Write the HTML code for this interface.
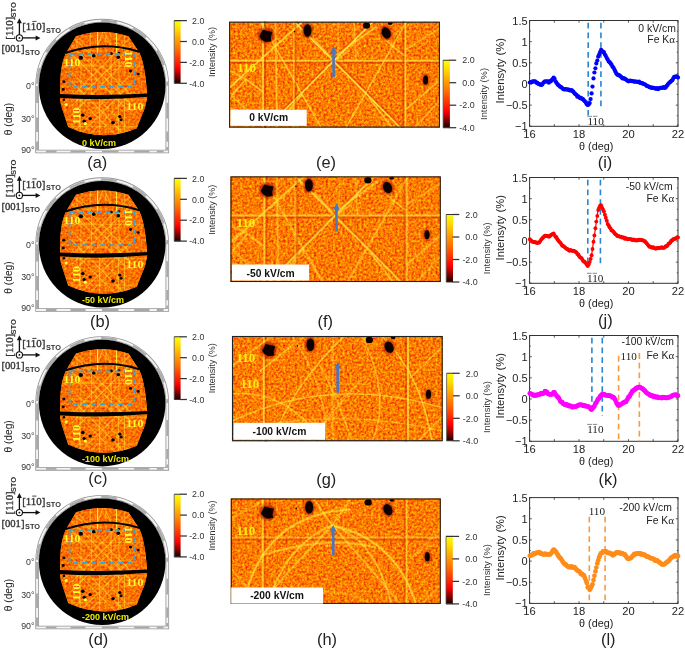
<!DOCTYPE html>
<html><head><meta charset="utf-8"><style>html,body{margin:0;padding:0;background:#fff;overflow:hidden}svg{display:block;will-change:transform}</style></head>
<body>
<svg width="685" height="649" viewBox="0 0 685 649">

<defs>
<linearGradient id="hot" x1="0" y1="0" x2="0" y2="1">
 <stop offset="0" stop-color="#ffff00"/>
 <stop offset="0.12" stop-color="#ffe000"/>
 <stop offset="0.29" stop-color="#ffa500"/>
 <stop offset="0.46" stop-color="#ff7000"/>
 <stop offset="0.63" stop-color="#ff3000"/>
 <stop offset="0.76" stop-color="#ff0000"/>
 <stop offset="0.86" stop-color="#a00000"/>
 <stop offset="1" stop-color="#180000"/>
</linearGradient>
<filter id="speck" x="0" y="0" width="100%" height="100%" color-interpolation-filters="sRGB">
 <feTurbulence type="fractalNoise" baseFrequency="0.42" numOctaves="2" seed="4" result="n"/>
 <feColorMatrix in="n" type="matrix" values="0.3 0 0 0 0.85  1.0 0 0 0 -0.02  0 0 0 0 0  0 0 0 0 1"/>
</filter>
<filter id="speck2" x="0" y="0" width="100%" height="100%" color-interpolation-filters="sRGB">
 <feTurbulence type="fractalNoise" baseFrequency="0.42" numOctaves="2" seed="11" result="n"/>
 <feColorMatrix in="n" type="matrix" values="0.2 0 0 0 0.88  0.75 0 0 0 0.06  0 0 0 0 0  0 0 0 0 1"/>
</filter>
<filter id="soft" x="-10%" y="-10%" width="120%" height="120%"><feGaussianBlur stdDeviation="0.55"/></filter>
<filter id="blobf" x="-50%" y="-50%" width="200%" height="200%"><feGaussianBlur stdDeviation="0.9"/></filter>
</defs>

<rect width="685" height="649" fill="#fff"/>
<g transform="translate(0,0)"><path d="M37.10,151.45 V85.7 A65.1,65.1 0 0 1 167.30,85.7 V151.45 Z" fill="none" stroke="#959595" stroke-width="3.6"/>
<path d="M37.10,151.45 V85.7 A65.1,65.1 0 0 1 167.30,85.7 V151.45 Z" fill="none" stroke="#f4f4f4" stroke-width="2.0"/>
<path d="M37.10,85.7 A65.1,65.1 0 0 1 167.30,85.7" fill="none" stroke="#ababab" stroke-width="2.0" stroke-dasharray="16 17" stroke-dashoffset="-2"/>
<path d="M37.10,86 V103 M37.10,117.5 V132 M37.10,141.5 V150.5 M167.30,102.7 V118.5 M167.30,131.5 V141.7 M167.30,147 V150.5 M46,151.45 H56.5 M70.5,151.45 H85.5 M102,151.45 H118.4 M134.2,151.45 H149.5 M156.8,151.45 H163.6 " fill="none" stroke="#a8a8a8" stroke-width="2.0"/>
<circle cx="102.2" cy="85.7" r="63.3" fill="#000"/>
<clipPath id="cp0"><path d="M76,36.2 Q102.2,27.6 128.4,36.2 L138.8,51.8 C142.5,58 145.5,72 146.8,90 L147.3,96.5 C146,104 144.5,110 142.9,112.5 L136.8,128.3 Q102.5,143 68.2,127 L61,105 C60.3,101 60.1,98 60.1,96 C60.1,85 60.3,76 61.2,70 C62.5,62 64,57 66.2,52.8 Z"/></clipPath>
<g clip-path="url(#cp0)">
<rect x="55" y="25" width="98" height="120" fill="#f57a10"/>
<rect x="55" y="25" width="98" height="120" filter="url(#speck2)"/>
<g filter="url(#soft)">
<line x1="77" y1="28" x2="77" y2="53" stroke="#ffe83a" stroke-width="1.1" opacity="0.35"/>
<line x1="90.2" y1="28" x2="90.2" y2="53" stroke="#ffe83a" stroke-width="1.1" opacity="0.50"/>
<line x1="97.6" y1="28" x2="97.6" y2="53" stroke="#ffe83a" stroke-width="1.1" opacity="1.00"/>
<line x1="106" y1="28" x2="106" y2="53" stroke="#ffe83a" stroke-width="1.1" opacity="0.35"/>
<line x1="116.5" y1="28" x2="116.5" y2="53" stroke="#ffe83a" stroke-width="1.1" opacity="1.00"/>
<line x1="124.4" y1="28" x2="124.4" y2="53" stroke="#ffe83a" stroke-width="1.1" opacity="0.35"/>
<line x1="97.6" y1="28" x2="97.6" y2="53" stroke="#ffe83a" stroke-width="1.1" opacity="0.60"/>
<line x1="116.5" y1="28" x2="116.5" y2="53" stroke="#ffe83a" stroke-width="1.1" opacity="0.60"/>
<line x1="103.5" y1="30" x2="97" y2="48" stroke="#ffe83a" stroke-width="1.1" opacity="0.50"/>
<line x1="103.5" y1="30" x2="112" y2="48" stroke="#ffe83a" stroke-width="1.1" opacity="0.50"/>
<line x1="79" y1="38" x2="88" y2="48" stroke="#ffe83a" stroke-width="1.1" opacity="0.40"/>
<line x1="72" y1="36.099999999999994" x2="132" y2="96.1" stroke="#ffe83a" stroke-width="1.1" opacity="0.45"/>
<line x1="132" y1="36.099999999999994" x2="72" y2="96.1" stroke="#ffe83a" stroke-width="1.1" opacity="0.45"/>
<line x1="72" y1="45.3" x2="132" y2="105.3" stroke="#ffe83a" stroke-width="1.1" opacity="0.55"/>
<line x1="132" y1="45.3" x2="72" y2="105.3" stroke="#ffe83a" stroke-width="1.1" opacity="0.55"/>
<line x1="72" y1="54.5" x2="132" y2="114.5" stroke="#ffe83a" stroke-width="1.1" opacity="0.45"/>
<line x1="132" y1="54.5" x2="72" y2="114.5" stroke="#ffe83a" stroke-width="1.1" opacity="0.45"/>
<line x1="81" y1="53" x2="81" y2="95" stroke="#ffe83a" stroke-width="1.1" opacity="0.45"/>
<line x1="91.5" y1="53" x2="91.5" y2="95" stroke="#ffe83a" stroke-width="1.1" opacity="0.45"/>
<line x1="111.2" y1="53" x2="111.2" y2="95" stroke="#ffe83a" stroke-width="1.1" opacity="0.45"/>
<line x1="119" y1="53" x2="119" y2="95" stroke="#ffe83a" stroke-width="1.1" opacity="0.45"/>
<line x1="60" y1="66.1" x2="146" y2="66.1" stroke="#ffe83a" stroke-width="1.1" opacity="0.30"/>
<line x1="72.3" y1="73" x2="132.3" y2="133" stroke="#ffe83a" stroke-width="1.1" opacity="0.40"/>
<line x1="132.3" y1="73" x2="72.3" y2="133" stroke="#ffe83a" stroke-width="1.1" opacity="0.40"/>
<line x1="72.3" y1="82.5" x2="132.3" y2="142.5" stroke="#ffe83a" stroke-width="1.1" opacity="0.55"/>
<line x1="132.3" y1="82.5" x2="72.3" y2="142.5" stroke="#ffe83a" stroke-width="1.1" opacity="0.55"/>
<line x1="72.3" y1="92" x2="132.3" y2="152" stroke="#ffe83a" stroke-width="1.1" opacity="0.40"/>
<line x1="132.3" y1="92" x2="72.3" y2="152" stroke="#ffe83a" stroke-width="1.1" opacity="0.40"/>
<line x1="80.2" y1="98" x2="80.2" y2="140" stroke="#ffe83a" stroke-width="1.1" opacity="0.50"/>
<line x1="99.6" y1="98" x2="99.6" y2="140" stroke="#ffe83a" stroke-width="1.1" opacity="0.50"/>
<line x1="118.4" y1="98" x2="118.4" y2="140" stroke="#ffe83a" stroke-width="1.1" opacity="0.50"/>
<line x1="124.5" y1="98" x2="124.5" y2="140" stroke="#ffe83a" stroke-width="1.1" opacity="0.50"/>
<line x1="60" y1="99.7" x2="148" y2="99.7" stroke="#ffe83a" stroke-width="1.1" opacity="0.35"/>
<line x1="60" y1="126.6" x2="148" y2="126.6" stroke="#ffe83a" stroke-width="1.1" opacity="0.30"/>
</g>
</g>
<path d="M65.5,53 Q102.5,40.3 139.3,51.8" fill="none" stroke="#000" stroke-width="2"/>
<path d="M59,94 Q103,96 148,93.5 L148,96.7 Q103,101 59,97.8 Z" fill="#000"/>
<ellipse cx="80.8" cy="57.7" rx="2.20" ry="2.0" fill="#000"/>
<ellipse cx="93.7" cy="55.7" rx="1.87" ry="1.7" fill="#000"/>
<ellipse cx="111.3" cy="53.6" rx="1.54" ry="1.4" fill="#000"/>
<ellipse cx="118.3" cy="57.2" rx="1.87" ry="1.7" fill="#000"/>
<ellipse cx="119" cy="53" rx="1.32" ry="1.2" fill="#000"/>
<ellipse cx="130.5" cy="71" rx="1.54" ry="1.4" fill="#000"/>
<ellipse cx="138.2" cy="74" rx="1.43" ry="1.3" fill="#000"/>
<ellipse cx="63.8" cy="81.7" rx="1.54" ry="1.4" fill="#000"/>
<ellipse cx="63.2" cy="89.4" rx="1.54" ry="1.4" fill="#000"/>
<ellipse cx="82.8" cy="115.1" rx="1.87" ry="1.7" fill="#000"/>
<ellipse cx="90.2" cy="118.5" rx="1.65" ry="1.5" fill="#000"/>
<ellipse cx="84.2" cy="121.2" rx="1.76" ry="1.6" fill="#000"/>
<ellipse cx="113" cy="122.5" rx="1.87" ry="1.7" fill="#000"/>
<ellipse cx="119.8" cy="116.5" rx="1.65" ry="1.5" fill="#000"/>
<ellipse cx="121.1" cy="119.8" rx="1.54" ry="1.4" fill="#000"/>
<ellipse cx="63.8" cy="99.8" rx="1.32" ry="1.2" fill="#000"/>
<circle cx="66.1" cy="104.5" r="1.6" fill="#ffff40"/><circle cx="85.3" cy="123.7" r="1.6" fill="#ffff40"/>
<rect x="69.6" y="53.9" width="64.4" height="32.8" fill="none" stroke="#38a6dc" stroke-width="1.7" stroke-dasharray="5 4"/>
<text x="63.5" y="65.6" font-size="9.8" textLength="17" lengthAdjust="spacingAndGlyphs" font-family="Liberation Serif, serif" font-weight="bold" fill="#ffff30">110</text>
<text x="126.3" y="109.6" font-size="9.8" textLength="17" lengthAdjust="spacingAndGlyphs" font-family="Liberation Serif, serif" font-weight="bold" fill="#ffff30">110</text>
<text transform="translate(79.6,124.5) rotate(-90)" font-size="9.8" textLength="17" lengthAdjust="spacingAndGlyphs" font-family="Liberation Serif, serif" font-weight="bold" fill="#ffff30">110</text>
<text transform="translate(125.2,50.4) rotate(90)" font-size="9.8" textLength="17" lengthAdjust="spacingAndGlyphs" font-family="Liberation Serif, serif" font-weight="bold" fill="#ffff30">110</text>
<text x="34.5" y="89.3" text-anchor="end" font-size="8.8" font-family="Liberation Sans, sans-serif" fill="#333">0°</text>
<text x="34.5" y="121.6" text-anchor="end" font-size="8.8" font-family="Liberation Sans, sans-serif" fill="#333">30°</text>
<text x="34.5" y="152.6" text-anchor="end" font-size="8.8" font-family="Liberation Sans, sans-serif" fill="#333">90°</text>
<text transform="translate(12,119) rotate(-90)" text-anchor="middle" font-size="10.2" font-family="Liberation Sans, sans-serif" fill="#222">θ (deg)</text></g><text x="81.9" y="146.3" font-size="9" font-weight="bold" font-family="Liberation Sans, sans-serif" fill="#eeee00">0 kV/cm</text>
<g transform="translate(0,0)"><path d="M19.4,37.9 V21.5" stroke="#111" stroke-width="1.3"/>
<path d="M19.4,18.3 L16.9,23.2 L21.9,23.2 Z" fill="#111"/>
<path d="M19.4,37.9 H37" stroke="#111" stroke-width="1.3"/>
<path d="M40.4,37.9 L35.6,35.4 L35.6,40.4 Z" fill="#111"/>
<circle cx="19.4" cy="37.9" r="3.1" fill="#fff" stroke="#111" stroke-width="1.1"/>
<circle cx="19.4" cy="37.9" r="0.9" fill="#111"/>
<text x="22.2" y="30.4" font-size="11" textLength="23.1" lengthAdjust="spacingAndGlyphs" font-family="Liberation Serif, serif" fill="#333" stroke="#333" stroke-width="0.35">[110]</text>
<path d="M32.3,21.4 H36.5" stroke="#333" stroke-width="0.9"/>
<text x="45.9" y="32.7" font-size="7.4" font-weight="bold" textLength="15.0" lengthAdjust="spacingAndGlyphs" font-family="Liberation Sans, sans-serif" fill="#333">STO</text>
<text x="1.4" y="52.3" font-size="11.2" textLength="23.1" lengthAdjust="spacingAndGlyphs" font-family="Liberation Serif, serif" fill="#333" stroke="#333" stroke-width="0.35">[001]</text>
<text x="25.0" y="54.6" font-size="7.4" font-weight="bold" textLength="15.0" lengthAdjust="spacingAndGlyphs" font-family="Liberation Sans, sans-serif" fill="#333">STO</text>
<text transform="translate(12.8,39.7) rotate(-90)" font-size="11" textLength="23.1" lengthAdjust="spacingAndGlyphs" font-family="Liberation Serif, serif" fill="#333" stroke="#333" stroke-width="0.35">[110]</text>
<text transform="translate(16.3,17.6) rotate(-90)" font-size="7.4" font-weight="bold" textLength="15.6" lengthAdjust="spacingAndGlyphs" font-family="Liberation Sans, sans-serif" fill="#333">STO</text></g>
<rect x="174.2" y="20.6" width="6.400000000000006" height="62.699999999999996" fill="url(#hot)"/>
<path d="M174.2,20.6 V83.3" stroke="#555" stroke-width="0.8"/>
<path d="M174.2,20.6 H180.6 M174.2,83.3 H180.6" stroke="#333" stroke-width="1.1"/>
<path d="M180.1,20.60 H186.9" stroke="#333" stroke-width="1.25"/>
<text x="204.3" y="23.80" text-anchor="end" font-size="8.8" font-family="Liberation Sans, sans-serif" fill="#333">2.0</text>
<path d="M180.1,41.50 H186.9" stroke="#333" stroke-width="1.25"/>
<text x="204.3" y="44.70" text-anchor="end" font-size="8.8" font-family="Liberation Sans, sans-serif" fill="#333">0.0</text>
<path d="M180.1,62.40 H186.9" stroke="#333" stroke-width="1.25"/>
<text x="204.3" y="65.60" text-anchor="end" font-size="8.8" font-family="Liberation Sans, sans-serif" fill="#333">-2.0</text>
<path d="M180.1,83.30 H186.9" stroke="#333" stroke-width="1.25"/>
<text x="204.3" y="86.50" text-anchor="end" font-size="8.8" font-family="Liberation Sans, sans-serif" fill="#333">-4.0</text>
<text transform="translate(214.9,51.95) rotate(-90)" text-anchor="middle" font-size="9.0" font-family="Liberation Sans, sans-serif" fill="#333">Intensity (%)</text>
<g transform="translate(0,158.5)"><path d="M37.10,151.45 V85.7 A65.1,65.1 0 0 1 167.30,85.7 V151.45 Z" fill="none" stroke="#959595" stroke-width="3.6"/>
<path d="M37.10,151.45 V85.7 A65.1,65.1 0 0 1 167.30,85.7 V151.45 Z" fill="none" stroke="#f4f4f4" stroke-width="2.0"/>
<path d="M37.10,85.7 A65.1,65.1 0 0 1 167.30,85.7" fill="none" stroke="#ababab" stroke-width="2.0" stroke-dasharray="16 17" stroke-dashoffset="-2"/>
<path d="M37.10,86 V103 M37.10,117.5 V132 M37.10,141.5 V150.5 M167.30,102.7 V118.5 M167.30,131.5 V141.7 M167.30,147 V150.5 M46,151.45 H56.5 M70.5,151.45 H85.5 M102,151.45 H118.4 M134.2,151.45 H149.5 M156.8,151.45 H163.6 " fill="none" stroke="#a8a8a8" stroke-width="2.0"/>
<circle cx="102.2" cy="85.7" r="63.3" fill="#000"/>
<clipPath id="cp1"><path d="M76,36.2 Q102.2,27.6 128.4,36.2 L138.8,51.8 C142.5,58 145.5,72 146.8,90 L147.3,96.5 C146,104 144.5,110 142.9,112.5 L136.8,128.3 Q102.5,143 68.2,127 L61,105 C60.3,101 60.1,98 60.1,96 C60.1,85 60.3,76 61.2,70 C62.5,62 64,57 66.2,52.8 Z"/></clipPath>
<g clip-path="url(#cp1)">
<rect x="55" y="25" width="98" height="120" fill="#f57a10"/>
<rect x="55" y="25" width="98" height="120" filter="url(#speck2)"/>
<g filter="url(#soft)">
<line x1="77" y1="28" x2="77" y2="53" stroke="#ffe83a" stroke-width="1.1" opacity="0.35"/>
<line x1="90.2" y1="28" x2="90.2" y2="53" stroke="#ffe83a" stroke-width="1.1" opacity="0.50"/>
<line x1="97.6" y1="28" x2="97.6" y2="53" stroke="#ffe83a" stroke-width="1.1" opacity="1.00"/>
<line x1="106" y1="28" x2="106" y2="53" stroke="#ffe83a" stroke-width="1.1" opacity="0.35"/>
<line x1="116.5" y1="28" x2="116.5" y2="53" stroke="#ffe83a" stroke-width="1.1" opacity="1.00"/>
<line x1="124.4" y1="28" x2="124.4" y2="53" stroke="#ffe83a" stroke-width="1.1" opacity="0.35"/>
<line x1="97.6" y1="28" x2="97.6" y2="53" stroke="#ffe83a" stroke-width="1.1" opacity="0.60"/>
<line x1="116.5" y1="28" x2="116.5" y2="53" stroke="#ffe83a" stroke-width="1.1" opacity="0.60"/>
<line x1="103.5" y1="30" x2="97" y2="48" stroke="#ffe83a" stroke-width="1.1" opacity="0.50"/>
<line x1="103.5" y1="30" x2="112" y2="48" stroke="#ffe83a" stroke-width="1.1" opacity="0.50"/>
<line x1="79" y1="38" x2="88" y2="48" stroke="#ffe83a" stroke-width="1.1" opacity="0.40"/>
<line x1="72" y1="36.099999999999994" x2="132" y2="96.1" stroke="#ffe83a" stroke-width="1.1" opacity="0.45"/>
<line x1="132" y1="36.099999999999994" x2="72" y2="96.1" stroke="#ffe83a" stroke-width="1.1" opacity="0.45"/>
<line x1="72" y1="45.3" x2="132" y2="105.3" stroke="#ffe83a" stroke-width="1.1" opacity="0.55"/>
<line x1="132" y1="45.3" x2="72" y2="105.3" stroke="#ffe83a" stroke-width="1.1" opacity="0.55"/>
<line x1="72" y1="54.5" x2="132" y2="114.5" stroke="#ffe83a" stroke-width="1.1" opacity="0.45"/>
<line x1="132" y1="54.5" x2="72" y2="114.5" stroke="#ffe83a" stroke-width="1.1" opacity="0.45"/>
<line x1="81" y1="53" x2="81" y2="95" stroke="#ffe83a" stroke-width="1.1" opacity="0.45"/>
<line x1="91.5" y1="53" x2="91.5" y2="95" stroke="#ffe83a" stroke-width="1.1" opacity="0.45"/>
<line x1="111.2" y1="53" x2="111.2" y2="95" stroke="#ffe83a" stroke-width="1.1" opacity="0.45"/>
<line x1="119" y1="53" x2="119" y2="95" stroke="#ffe83a" stroke-width="1.1" opacity="0.45"/>
<line x1="60" y1="66.1" x2="146" y2="66.1" stroke="#ffe83a" stroke-width="1.1" opacity="0.30"/>
<line x1="72.3" y1="73" x2="132.3" y2="133" stroke="#ffe83a" stroke-width="1.1" opacity="0.40"/>
<line x1="132.3" y1="73" x2="72.3" y2="133" stroke="#ffe83a" stroke-width="1.1" opacity="0.40"/>
<line x1="72.3" y1="82.5" x2="132.3" y2="142.5" stroke="#ffe83a" stroke-width="1.1" opacity="0.55"/>
<line x1="132.3" y1="82.5" x2="72.3" y2="142.5" stroke="#ffe83a" stroke-width="1.1" opacity="0.55"/>
<line x1="72.3" y1="92" x2="132.3" y2="152" stroke="#ffe83a" stroke-width="1.1" opacity="0.40"/>
<line x1="132.3" y1="92" x2="72.3" y2="152" stroke="#ffe83a" stroke-width="1.1" opacity="0.40"/>
<line x1="80.2" y1="98" x2="80.2" y2="140" stroke="#ffe83a" stroke-width="1.1" opacity="0.50"/>
<line x1="99.6" y1="98" x2="99.6" y2="140" stroke="#ffe83a" stroke-width="1.1" opacity="0.50"/>
<line x1="118.4" y1="98" x2="118.4" y2="140" stroke="#ffe83a" stroke-width="1.1" opacity="0.50"/>
<line x1="124.5" y1="98" x2="124.5" y2="140" stroke="#ffe83a" stroke-width="1.1" opacity="0.50"/>
<line x1="60" y1="99.7" x2="148" y2="99.7" stroke="#ffe83a" stroke-width="1.1" opacity="0.35"/>
<line x1="60" y1="126.6" x2="148" y2="126.6" stroke="#ffe83a" stroke-width="1.1" opacity="0.30"/>
</g>
</g>
<path d="M65.5,53 Q102.5,40.3 139.3,51.8" fill="none" stroke="#000" stroke-width="2"/>
<path d="M59,94 Q103,96 148,93.5 L148,96.7 Q103,101 59,97.8 Z" fill="#000"/>
<ellipse cx="80.8" cy="57.7" rx="2.20" ry="2.0" fill="#000"/>
<ellipse cx="93.7" cy="55.7" rx="1.87" ry="1.7" fill="#000"/>
<ellipse cx="111.3" cy="53.6" rx="1.54" ry="1.4" fill="#000"/>
<ellipse cx="118.3" cy="57.2" rx="1.87" ry="1.7" fill="#000"/>
<ellipse cx="119" cy="53" rx="1.32" ry="1.2" fill="#000"/>
<ellipse cx="130.5" cy="71" rx="1.54" ry="1.4" fill="#000"/>
<ellipse cx="138.2" cy="74" rx="1.43" ry="1.3" fill="#000"/>
<ellipse cx="63.8" cy="81.7" rx="1.54" ry="1.4" fill="#000"/>
<ellipse cx="63.2" cy="89.4" rx="1.54" ry="1.4" fill="#000"/>
<ellipse cx="82.8" cy="115.1" rx="1.87" ry="1.7" fill="#000"/>
<ellipse cx="90.2" cy="118.5" rx="1.65" ry="1.5" fill="#000"/>
<ellipse cx="84.2" cy="121.2" rx="1.76" ry="1.6" fill="#000"/>
<ellipse cx="113" cy="122.5" rx="1.87" ry="1.7" fill="#000"/>
<ellipse cx="119.8" cy="116.5" rx="1.65" ry="1.5" fill="#000"/>
<ellipse cx="121.1" cy="119.8" rx="1.54" ry="1.4" fill="#000"/>
<ellipse cx="63.8" cy="99.8" rx="1.32" ry="1.2" fill="#000"/>
<circle cx="66.1" cy="104.5" r="1.6" fill="#ffff40"/><circle cx="85.3" cy="123.7" r="1.6" fill="#ffff40"/>
<rect x="69.6" y="53.9" width="64.4" height="32.8" fill="none" stroke="#38a6dc" stroke-width="1.7" stroke-dasharray="5 4"/>
<text x="63.5" y="65.6" font-size="9.8" textLength="17" lengthAdjust="spacingAndGlyphs" font-family="Liberation Serif, serif" font-weight="bold" fill="#ffff30">110</text>
<text x="126.3" y="109.6" font-size="9.8" textLength="17" lengthAdjust="spacingAndGlyphs" font-family="Liberation Serif, serif" font-weight="bold" fill="#ffff30">110</text>
<text transform="translate(79.6,124.5) rotate(-90)" font-size="9.8" textLength="17" lengthAdjust="spacingAndGlyphs" font-family="Liberation Serif, serif" font-weight="bold" fill="#ffff30">110</text>
<text transform="translate(125.2,50.4) rotate(90)" font-size="9.8" textLength="17" lengthAdjust="spacingAndGlyphs" font-family="Liberation Serif, serif" font-weight="bold" fill="#ffff30">110</text>
<text x="34.5" y="89.3" text-anchor="end" font-size="8.8" font-family="Liberation Sans, sans-serif" fill="#333">0°</text>
<text x="34.5" y="121.6" text-anchor="end" font-size="8.8" font-family="Liberation Sans, sans-serif" fill="#333">30°</text>
<text x="34.5" y="152.6" text-anchor="end" font-size="8.8" font-family="Liberation Sans, sans-serif" fill="#333">90°</text>
<text transform="translate(12,119) rotate(-90)" text-anchor="middle" font-size="10.2" font-family="Liberation Sans, sans-serif" fill="#222">θ (deg)</text></g><text x="81.9" y="303.3" font-size="9" font-weight="bold" font-family="Liberation Sans, sans-serif" fill="#eeee00">-50 kV/cm</text>
<g transform="translate(0,157.5)"><path d="M19.4,37.9 V21.5" stroke="#111" stroke-width="1.3"/>
<path d="M19.4,18.3 L16.9,23.2 L21.9,23.2 Z" fill="#111"/>
<path d="M19.4,37.9 H37" stroke="#111" stroke-width="1.3"/>
<path d="M40.4,37.9 L35.6,35.4 L35.6,40.4 Z" fill="#111"/>
<circle cx="19.4" cy="37.9" r="3.1" fill="#fff" stroke="#111" stroke-width="1.1"/>
<circle cx="19.4" cy="37.9" r="0.9" fill="#111"/>
<text x="22.2" y="30.4" font-size="11" textLength="23.1" lengthAdjust="spacingAndGlyphs" font-family="Liberation Serif, serif" fill="#333" stroke="#333" stroke-width="0.35">[110]</text>
<path d="M32.3,21.4 H36.5" stroke="#333" stroke-width="0.9"/>
<text x="45.9" y="32.7" font-size="7.4" font-weight="bold" textLength="15.0" lengthAdjust="spacingAndGlyphs" font-family="Liberation Sans, sans-serif" fill="#333">STO</text>
<text x="1.4" y="52.3" font-size="11.2" textLength="23.1" lengthAdjust="spacingAndGlyphs" font-family="Liberation Serif, serif" fill="#333" stroke="#333" stroke-width="0.35">[001]</text>
<text x="25.0" y="54.6" font-size="7.4" font-weight="bold" textLength="15.0" lengthAdjust="spacingAndGlyphs" font-family="Liberation Sans, sans-serif" fill="#333">STO</text>
<text transform="translate(12.8,39.7) rotate(-90)" font-size="11" textLength="23.1" lengthAdjust="spacingAndGlyphs" font-family="Liberation Serif, serif" fill="#333" stroke="#333" stroke-width="0.35">[110]</text>
<text transform="translate(16.3,17.6) rotate(-90)" font-size="7.4" font-weight="bold" textLength="15.6" lengthAdjust="spacingAndGlyphs" font-family="Liberation Sans, sans-serif" fill="#333">STO</text></g>
<rect x="174.2" y="178.4" width="6.400000000000006" height="62.70000000000002" fill="url(#hot)"/>
<path d="M174.2,178.4 V241.10000000000002" stroke="#555" stroke-width="0.8"/>
<path d="M174.2,178.4 H180.6 M174.2,241.10000000000002 H180.6" stroke="#333" stroke-width="1.1"/>
<path d="M180.1,178.40 H186.9" stroke="#333" stroke-width="1.25"/>
<text x="204.3" y="181.60" text-anchor="end" font-size="8.8" font-family="Liberation Sans, sans-serif" fill="#333">2.0</text>
<path d="M180.1,199.30 H186.9" stroke="#333" stroke-width="1.25"/>
<text x="204.3" y="202.50" text-anchor="end" font-size="8.8" font-family="Liberation Sans, sans-serif" fill="#333">0.0</text>
<path d="M180.1,220.20 H186.9" stroke="#333" stroke-width="1.25"/>
<text x="204.3" y="223.40" text-anchor="end" font-size="8.8" font-family="Liberation Sans, sans-serif" fill="#333">-2.0</text>
<path d="M180.1,241.10 H186.9" stroke="#333" stroke-width="1.25"/>
<text x="204.3" y="244.30" text-anchor="end" font-size="8.8" font-family="Liberation Sans, sans-serif" fill="#333">-4.0</text>
<text transform="translate(214.9,209.75) rotate(-90)" text-anchor="middle" font-size="9.0" font-family="Liberation Sans, sans-serif" fill="#333">Intensity (%)</text>
<g transform="translate(0,317.4)"><path d="M37.10,151.45 V85.7 A65.1,65.1 0 0 1 167.30,85.7 V151.45 Z" fill="none" stroke="#959595" stroke-width="3.6"/>
<path d="M37.10,151.45 V85.7 A65.1,65.1 0 0 1 167.30,85.7 V151.45 Z" fill="none" stroke="#f4f4f4" stroke-width="2.0"/>
<path d="M37.10,85.7 A65.1,65.1 0 0 1 167.30,85.7" fill="none" stroke="#ababab" stroke-width="2.0" stroke-dasharray="16 17" stroke-dashoffset="-2"/>
<path d="M37.10,86 V103 M37.10,117.5 V132 M37.10,141.5 V150.5 M167.30,102.7 V118.5 M167.30,131.5 V141.7 M167.30,147 V150.5 M46,151.45 H56.5 M70.5,151.45 H85.5 M102,151.45 H118.4 M134.2,151.45 H149.5 M156.8,151.45 H163.6 " fill="none" stroke="#a8a8a8" stroke-width="2.0"/>
<circle cx="102.2" cy="85.7" r="63.3" fill="#000"/>
<clipPath id="cp2"><path d="M76,36.2 Q102.2,27.6 128.4,36.2 L138.8,51.8 C142.5,58 145.5,72 146.8,90 L147.3,96.5 C146,104 144.5,110 142.9,112.5 L136.8,128.3 Q102.5,143 68.2,127 L61,105 C60.3,101 60.1,98 60.1,96 C60.1,85 60.3,76 61.2,70 C62.5,62 64,57 66.2,52.8 Z"/></clipPath>
<g clip-path="url(#cp2)">
<rect x="55" y="25" width="98" height="120" fill="#f57a10"/>
<rect x="55" y="25" width="98" height="120" filter="url(#speck2)"/>
<g filter="url(#soft)">
<line x1="77" y1="28" x2="77" y2="53" stroke="#ffe83a" stroke-width="1.1" opacity="0.35"/>
<line x1="90.2" y1="28" x2="90.2" y2="53" stroke="#ffe83a" stroke-width="1.1" opacity="0.50"/>
<line x1="97.6" y1="28" x2="97.6" y2="53" stroke="#ffe83a" stroke-width="1.1" opacity="1.00"/>
<line x1="106" y1="28" x2="106" y2="53" stroke="#ffe83a" stroke-width="1.1" opacity="0.35"/>
<line x1="116.5" y1="28" x2="116.5" y2="53" stroke="#ffe83a" stroke-width="1.1" opacity="1.00"/>
<line x1="124.4" y1="28" x2="124.4" y2="53" stroke="#ffe83a" stroke-width="1.1" opacity="0.35"/>
<line x1="97.6" y1="28" x2="97.6" y2="53" stroke="#ffe83a" stroke-width="1.1" opacity="0.60"/>
<line x1="116.5" y1="28" x2="116.5" y2="53" stroke="#ffe83a" stroke-width="1.1" opacity="0.60"/>
<line x1="103.5" y1="30" x2="97" y2="48" stroke="#ffe83a" stroke-width="1.1" opacity="0.50"/>
<line x1="103.5" y1="30" x2="112" y2="48" stroke="#ffe83a" stroke-width="1.1" opacity="0.50"/>
<line x1="79" y1="38" x2="88" y2="48" stroke="#ffe83a" stroke-width="1.1" opacity="0.40"/>
<line x1="72" y1="36.099999999999994" x2="132" y2="96.1" stroke="#ffe83a" stroke-width="1.1" opacity="0.45"/>
<line x1="132" y1="36.099999999999994" x2="72" y2="96.1" stroke="#ffe83a" stroke-width="1.1" opacity="0.45"/>
<line x1="72" y1="45.3" x2="132" y2="105.3" stroke="#ffe83a" stroke-width="1.1" opacity="0.55"/>
<line x1="132" y1="45.3" x2="72" y2="105.3" stroke="#ffe83a" stroke-width="1.1" opacity="0.55"/>
<line x1="72" y1="54.5" x2="132" y2="114.5" stroke="#ffe83a" stroke-width="1.1" opacity="0.45"/>
<line x1="132" y1="54.5" x2="72" y2="114.5" stroke="#ffe83a" stroke-width="1.1" opacity="0.45"/>
<line x1="81" y1="53" x2="81" y2="95" stroke="#ffe83a" stroke-width="1.1" opacity="0.45"/>
<line x1="91.5" y1="53" x2="91.5" y2="95" stroke="#ffe83a" stroke-width="1.1" opacity="0.45"/>
<line x1="111.2" y1="53" x2="111.2" y2="95" stroke="#ffe83a" stroke-width="1.1" opacity="0.45"/>
<line x1="119" y1="53" x2="119" y2="95" stroke="#ffe83a" stroke-width="1.1" opacity="0.45"/>
<line x1="60" y1="66.1" x2="146" y2="66.1" stroke="#ffe83a" stroke-width="1.1" opacity="0.30"/>
<line x1="72.3" y1="73" x2="132.3" y2="133" stroke="#ffe83a" stroke-width="1.1" opacity="0.40"/>
<line x1="132.3" y1="73" x2="72.3" y2="133" stroke="#ffe83a" stroke-width="1.1" opacity="0.40"/>
<line x1="72.3" y1="82.5" x2="132.3" y2="142.5" stroke="#ffe83a" stroke-width="1.1" opacity="0.55"/>
<line x1="132.3" y1="82.5" x2="72.3" y2="142.5" stroke="#ffe83a" stroke-width="1.1" opacity="0.55"/>
<line x1="72.3" y1="92" x2="132.3" y2="152" stroke="#ffe83a" stroke-width="1.1" opacity="0.40"/>
<line x1="132.3" y1="92" x2="72.3" y2="152" stroke="#ffe83a" stroke-width="1.1" opacity="0.40"/>
<line x1="80.2" y1="98" x2="80.2" y2="140" stroke="#ffe83a" stroke-width="1.1" opacity="0.50"/>
<line x1="99.6" y1="98" x2="99.6" y2="140" stroke="#ffe83a" stroke-width="1.1" opacity="0.50"/>
<line x1="118.4" y1="98" x2="118.4" y2="140" stroke="#ffe83a" stroke-width="1.1" opacity="0.50"/>
<line x1="124.5" y1="98" x2="124.5" y2="140" stroke="#ffe83a" stroke-width="1.1" opacity="0.50"/>
<line x1="60" y1="99.7" x2="148" y2="99.7" stroke="#ffe83a" stroke-width="1.1" opacity="0.35"/>
<line x1="60" y1="126.6" x2="148" y2="126.6" stroke="#ffe83a" stroke-width="1.1" opacity="0.30"/>
</g>
</g>
<path d="M65.5,53 Q102.5,40.3 139.3,51.8" fill="none" stroke="#000" stroke-width="2"/>
<path d="M59,94 Q103,96 148,93.5 L148,96.7 Q103,101 59,97.8 Z" fill="#000"/>
<ellipse cx="80.8" cy="57.7" rx="2.20" ry="2.0" fill="#000"/>
<ellipse cx="93.7" cy="55.7" rx="1.87" ry="1.7" fill="#000"/>
<ellipse cx="111.3" cy="53.6" rx="1.54" ry="1.4" fill="#000"/>
<ellipse cx="118.3" cy="57.2" rx="1.87" ry="1.7" fill="#000"/>
<ellipse cx="119" cy="53" rx="1.32" ry="1.2" fill="#000"/>
<ellipse cx="130.5" cy="71" rx="1.54" ry="1.4" fill="#000"/>
<ellipse cx="138.2" cy="74" rx="1.43" ry="1.3" fill="#000"/>
<ellipse cx="63.8" cy="81.7" rx="1.54" ry="1.4" fill="#000"/>
<ellipse cx="63.2" cy="89.4" rx="1.54" ry="1.4" fill="#000"/>
<ellipse cx="82.8" cy="115.1" rx="1.87" ry="1.7" fill="#000"/>
<ellipse cx="90.2" cy="118.5" rx="1.65" ry="1.5" fill="#000"/>
<ellipse cx="84.2" cy="121.2" rx="1.76" ry="1.6" fill="#000"/>
<ellipse cx="113" cy="122.5" rx="1.87" ry="1.7" fill="#000"/>
<ellipse cx="119.8" cy="116.5" rx="1.65" ry="1.5" fill="#000"/>
<ellipse cx="121.1" cy="119.8" rx="1.54" ry="1.4" fill="#000"/>
<ellipse cx="63.8" cy="99.8" rx="1.32" ry="1.2" fill="#000"/>
<circle cx="66.1" cy="104.5" r="1.6" fill="#ffff40"/><circle cx="85.3" cy="123.7" r="1.6" fill="#ffff40"/>
<rect x="69.6" y="53.9" width="64.4" height="32.8" fill="none" stroke="#38a6dc" stroke-width="1.7" stroke-dasharray="5 4"/>
<text x="63.5" y="65.6" font-size="9.8" textLength="17" lengthAdjust="spacingAndGlyphs" font-family="Liberation Serif, serif" font-weight="bold" fill="#ffff30">110</text>
<text x="126.3" y="109.6" font-size="9.8" textLength="17" lengthAdjust="spacingAndGlyphs" font-family="Liberation Serif, serif" font-weight="bold" fill="#ffff30">110</text>
<text transform="translate(79.6,124.5) rotate(-90)" font-size="9.8" textLength="17" lengthAdjust="spacingAndGlyphs" font-family="Liberation Serif, serif" font-weight="bold" fill="#ffff30">110</text>
<text transform="translate(125.2,50.4) rotate(90)" font-size="9.8" textLength="17" lengthAdjust="spacingAndGlyphs" font-family="Liberation Serif, serif" font-weight="bold" fill="#ffff30">110</text>
<text x="34.5" y="89.3" text-anchor="end" font-size="8.8" font-family="Liberation Sans, sans-serif" fill="#333">0°</text>
<text x="34.5" y="121.6" text-anchor="end" font-size="8.8" font-family="Liberation Sans, sans-serif" fill="#333">30°</text>
<text x="34.5" y="152.6" text-anchor="end" font-size="8.8" font-family="Liberation Sans, sans-serif" fill="#333">90°</text>
<text transform="translate(12,119) rotate(-90)" text-anchor="middle" font-size="10.2" font-family="Liberation Sans, sans-serif" fill="#222">θ (deg)</text></g><text x="81.9" y="461.8" font-size="9" font-weight="bold" font-family="Liberation Sans, sans-serif" fill="#eeee00">-100 kV/cm</text>
<g transform="translate(0,317)"><path d="M19.4,37.9 V21.5" stroke="#111" stroke-width="1.3"/>
<path d="M19.4,18.3 L16.9,23.2 L21.9,23.2 Z" fill="#111"/>
<path d="M19.4,37.9 H37" stroke="#111" stroke-width="1.3"/>
<path d="M40.4,37.9 L35.6,35.4 L35.6,40.4 Z" fill="#111"/>
<circle cx="19.4" cy="37.9" r="3.1" fill="#fff" stroke="#111" stroke-width="1.1"/>
<circle cx="19.4" cy="37.9" r="0.9" fill="#111"/>
<text x="22.2" y="30.4" font-size="11" textLength="23.1" lengthAdjust="spacingAndGlyphs" font-family="Liberation Serif, serif" fill="#333" stroke="#333" stroke-width="0.35">[110]</text>
<path d="M32.3,21.4 H36.5" stroke="#333" stroke-width="0.9"/>
<text x="45.9" y="32.7" font-size="7.4" font-weight="bold" textLength="15.0" lengthAdjust="spacingAndGlyphs" font-family="Liberation Sans, sans-serif" fill="#333">STO</text>
<text x="1.4" y="52.3" font-size="11.2" textLength="23.1" lengthAdjust="spacingAndGlyphs" font-family="Liberation Serif, serif" fill="#333" stroke="#333" stroke-width="0.35">[001]</text>
<text x="25.0" y="54.6" font-size="7.4" font-weight="bold" textLength="15.0" lengthAdjust="spacingAndGlyphs" font-family="Liberation Sans, sans-serif" fill="#333">STO</text>
<text transform="translate(12.8,39.7) rotate(-90)" font-size="11" textLength="23.1" lengthAdjust="spacingAndGlyphs" font-family="Liberation Serif, serif" fill="#333" stroke="#333" stroke-width="0.35">[110]</text>
<text transform="translate(16.3,17.6) rotate(-90)" font-size="7.4" font-weight="bold" textLength="15.6" lengthAdjust="spacingAndGlyphs" font-family="Liberation Sans, sans-serif" fill="#333">STO</text></g>
<rect x="174.2" y="336.8" width="6.400000000000006" height="62.69999999999999" fill="url(#hot)"/>
<path d="M174.2,336.8 V399.5" stroke="#555" stroke-width="0.8"/>
<path d="M174.2,336.8 H180.6 M174.2,399.5 H180.6" stroke="#333" stroke-width="1.1"/>
<path d="M180.1,336.80 H186.9" stroke="#333" stroke-width="1.25"/>
<text x="204.3" y="340.00" text-anchor="end" font-size="8.8" font-family="Liberation Sans, sans-serif" fill="#333">2.0</text>
<path d="M180.1,357.70 H186.9" stroke="#333" stroke-width="1.25"/>
<text x="204.3" y="360.90" text-anchor="end" font-size="8.8" font-family="Liberation Sans, sans-serif" fill="#333">0.0</text>
<path d="M180.1,378.60 H186.9" stroke="#333" stroke-width="1.25"/>
<text x="204.3" y="381.80" text-anchor="end" font-size="8.8" font-family="Liberation Sans, sans-serif" fill="#333">-2.0</text>
<path d="M180.1,399.50 H186.9" stroke="#333" stroke-width="1.25"/>
<text x="204.3" y="402.70" text-anchor="end" font-size="8.8" font-family="Liberation Sans, sans-serif" fill="#333">-4.0</text>
<text transform="translate(214.9,368.15) rotate(-90)" text-anchor="middle" font-size="9.0" font-family="Liberation Sans, sans-serif" fill="#333">Intensity (%)</text>
<g transform="translate(0,476.1)"><path d="M37.10,151.45 V85.7 A65.1,65.1 0 0 1 167.30,85.7 V151.45 Z" fill="none" stroke="#959595" stroke-width="3.6"/>
<path d="M37.10,151.45 V85.7 A65.1,65.1 0 0 1 167.30,85.7 V151.45 Z" fill="none" stroke="#f4f4f4" stroke-width="2.0"/>
<path d="M37.10,85.7 A65.1,65.1 0 0 1 167.30,85.7" fill="none" stroke="#ababab" stroke-width="2.0" stroke-dasharray="16 17" stroke-dashoffset="-2"/>
<path d="M37.10,86 V103 M37.10,117.5 V132 M37.10,141.5 V150.5 M167.30,102.7 V118.5 M167.30,131.5 V141.7 M167.30,147 V150.5 M46,151.45 H56.5 M70.5,151.45 H85.5 M102,151.45 H118.4 M134.2,151.45 H149.5 M156.8,151.45 H163.6 " fill="none" stroke="#a8a8a8" stroke-width="2.0"/>
<circle cx="102.2" cy="85.7" r="63.3" fill="#000"/>
<clipPath id="cp3"><path d="M76,36.2 Q102.2,27.6 128.4,36.2 L138.8,51.8 C142.5,58 145.5,72 146.8,90 L147.3,96.5 C146,104 144.5,110 142.9,112.5 L136.8,128.3 Q102.5,143 68.2,127 L61,105 C60.3,101 60.1,98 60.1,96 C60.1,85 60.3,76 61.2,70 C62.5,62 64,57 66.2,52.8 Z"/></clipPath>
<g clip-path="url(#cp3)">
<rect x="55" y="25" width="98" height="120" fill="#f57a10"/>
<rect x="55" y="25" width="98" height="120" filter="url(#speck2)"/>
<g filter="url(#soft)">
<line x1="77" y1="28" x2="77" y2="53" stroke="#ffe83a" stroke-width="1.1" opacity="0.35"/>
<line x1="90.2" y1="28" x2="90.2" y2="53" stroke="#ffe83a" stroke-width="1.1" opacity="0.50"/>
<line x1="97.6" y1="28" x2="97.6" y2="53" stroke="#ffe83a" stroke-width="1.1" opacity="1.00"/>
<line x1="106" y1="28" x2="106" y2="53" stroke="#ffe83a" stroke-width="1.1" opacity="0.35"/>
<line x1="116.5" y1="28" x2="116.5" y2="53" stroke="#ffe83a" stroke-width="1.1" opacity="1.00"/>
<line x1="124.4" y1="28" x2="124.4" y2="53" stroke="#ffe83a" stroke-width="1.1" opacity="0.35"/>
<line x1="97.6" y1="28" x2="97.6" y2="53" stroke="#ffe83a" stroke-width="1.1" opacity="0.60"/>
<line x1="116.5" y1="28" x2="116.5" y2="53" stroke="#ffe83a" stroke-width="1.1" opacity="0.60"/>
<line x1="103.5" y1="30" x2="97" y2="48" stroke="#ffe83a" stroke-width="1.1" opacity="0.50"/>
<line x1="103.5" y1="30" x2="112" y2="48" stroke="#ffe83a" stroke-width="1.1" opacity="0.50"/>
<line x1="79" y1="38" x2="88" y2="48" stroke="#ffe83a" stroke-width="1.1" opacity="0.40"/>
<line x1="72" y1="36.099999999999994" x2="132" y2="96.1" stroke="#ffe83a" stroke-width="1.1" opacity="0.45"/>
<line x1="132" y1="36.099999999999994" x2="72" y2="96.1" stroke="#ffe83a" stroke-width="1.1" opacity="0.45"/>
<line x1="72" y1="45.3" x2="132" y2="105.3" stroke="#ffe83a" stroke-width="1.1" opacity="0.55"/>
<line x1="132" y1="45.3" x2="72" y2="105.3" stroke="#ffe83a" stroke-width="1.1" opacity="0.55"/>
<line x1="72" y1="54.5" x2="132" y2="114.5" stroke="#ffe83a" stroke-width="1.1" opacity="0.45"/>
<line x1="132" y1="54.5" x2="72" y2="114.5" stroke="#ffe83a" stroke-width="1.1" opacity="0.45"/>
<line x1="81" y1="53" x2="81" y2="95" stroke="#ffe83a" stroke-width="1.1" opacity="0.45"/>
<line x1="91.5" y1="53" x2="91.5" y2="95" stroke="#ffe83a" stroke-width="1.1" opacity="0.45"/>
<line x1="111.2" y1="53" x2="111.2" y2="95" stroke="#ffe83a" stroke-width="1.1" opacity="0.45"/>
<line x1="119" y1="53" x2="119" y2="95" stroke="#ffe83a" stroke-width="1.1" opacity="0.45"/>
<line x1="60" y1="66.1" x2="146" y2="66.1" stroke="#ffe83a" stroke-width="1.1" opacity="0.30"/>
<line x1="72.3" y1="73" x2="132.3" y2="133" stroke="#ffe83a" stroke-width="1.1" opacity="0.40"/>
<line x1="132.3" y1="73" x2="72.3" y2="133" stroke="#ffe83a" stroke-width="1.1" opacity="0.40"/>
<line x1="72.3" y1="82.5" x2="132.3" y2="142.5" stroke="#ffe83a" stroke-width="1.1" opacity="0.55"/>
<line x1="132.3" y1="82.5" x2="72.3" y2="142.5" stroke="#ffe83a" stroke-width="1.1" opacity="0.55"/>
<line x1="72.3" y1="92" x2="132.3" y2="152" stroke="#ffe83a" stroke-width="1.1" opacity="0.40"/>
<line x1="132.3" y1="92" x2="72.3" y2="152" stroke="#ffe83a" stroke-width="1.1" opacity="0.40"/>
<line x1="80.2" y1="98" x2="80.2" y2="140" stroke="#ffe83a" stroke-width="1.1" opacity="0.50"/>
<line x1="99.6" y1="98" x2="99.6" y2="140" stroke="#ffe83a" stroke-width="1.1" opacity="0.50"/>
<line x1="118.4" y1="98" x2="118.4" y2="140" stroke="#ffe83a" stroke-width="1.1" opacity="0.50"/>
<line x1="124.5" y1="98" x2="124.5" y2="140" stroke="#ffe83a" stroke-width="1.1" opacity="0.50"/>
<line x1="60" y1="99.7" x2="148" y2="99.7" stroke="#ffe83a" stroke-width="1.1" opacity="0.35"/>
<line x1="60" y1="126.6" x2="148" y2="126.6" stroke="#ffe83a" stroke-width="1.1" opacity="0.30"/>
</g>
</g>
<path d="M65.5,53 Q102.5,40.3 139.3,51.8" fill="none" stroke="#000" stroke-width="2"/>
<path d="M59,94 Q103,96 148,93.5 L148,96.7 Q103,101 59,97.8 Z" fill="#000"/>
<ellipse cx="80.8" cy="57.7" rx="2.20" ry="2.0" fill="#000"/>
<ellipse cx="93.7" cy="55.7" rx="1.87" ry="1.7" fill="#000"/>
<ellipse cx="111.3" cy="53.6" rx="1.54" ry="1.4" fill="#000"/>
<ellipse cx="118.3" cy="57.2" rx="1.87" ry="1.7" fill="#000"/>
<ellipse cx="119" cy="53" rx="1.32" ry="1.2" fill="#000"/>
<ellipse cx="130.5" cy="71" rx="1.54" ry="1.4" fill="#000"/>
<ellipse cx="138.2" cy="74" rx="1.43" ry="1.3" fill="#000"/>
<ellipse cx="63.8" cy="81.7" rx="1.54" ry="1.4" fill="#000"/>
<ellipse cx="63.2" cy="89.4" rx="1.54" ry="1.4" fill="#000"/>
<ellipse cx="82.8" cy="115.1" rx="1.87" ry="1.7" fill="#000"/>
<ellipse cx="90.2" cy="118.5" rx="1.65" ry="1.5" fill="#000"/>
<ellipse cx="84.2" cy="121.2" rx="1.76" ry="1.6" fill="#000"/>
<ellipse cx="113" cy="122.5" rx="1.87" ry="1.7" fill="#000"/>
<ellipse cx="119.8" cy="116.5" rx="1.65" ry="1.5" fill="#000"/>
<ellipse cx="121.1" cy="119.8" rx="1.54" ry="1.4" fill="#000"/>
<ellipse cx="63.8" cy="99.8" rx="1.32" ry="1.2" fill="#000"/>
<circle cx="66.1" cy="104.5" r="1.6" fill="#ffff40"/><circle cx="85.3" cy="123.7" r="1.6" fill="#ffff40"/>
<rect x="69.6" y="53.9" width="64.4" height="32.8" fill="none" stroke="#38a6dc" stroke-width="1.7" stroke-dasharray="5 4"/>
<text x="63.5" y="65.6" font-size="9.8" textLength="17" lengthAdjust="spacingAndGlyphs" font-family="Liberation Serif, serif" font-weight="bold" fill="#ffff30">110</text>
<text x="126.3" y="109.6" font-size="9.8" textLength="17" lengthAdjust="spacingAndGlyphs" font-family="Liberation Serif, serif" font-weight="bold" fill="#ffff30">110</text>
<text transform="translate(79.6,124.5) rotate(-90)" font-size="9.8" textLength="17" lengthAdjust="spacingAndGlyphs" font-family="Liberation Serif, serif" font-weight="bold" fill="#ffff30">110</text>
<text transform="translate(125.2,50.4) rotate(90)" font-size="9.8" textLength="17" lengthAdjust="spacingAndGlyphs" font-family="Liberation Serif, serif" font-weight="bold" fill="#ffff30">110</text>
<text x="34.5" y="89.3" text-anchor="end" font-size="8.8" font-family="Liberation Sans, sans-serif" fill="#333">0°</text>
<text x="34.5" y="121.6" text-anchor="end" font-size="8.8" font-family="Liberation Sans, sans-serif" fill="#333">30°</text>
<text x="34.5" y="152.6" text-anchor="end" font-size="8.8" font-family="Liberation Sans, sans-serif" fill="#333">90°</text>
<text transform="translate(12,119) rotate(-90)" text-anchor="middle" font-size="10.2" font-family="Liberation Sans, sans-serif" fill="#222">θ (deg)</text></g><text x="81.9" y="619.8" font-size="9" font-weight="bold" font-family="Liberation Sans, sans-serif" fill="#eeee00">-200 kV/cm</text>
<g transform="translate(0,474.7)"><path d="M19.4,37.9 V21.5" stroke="#111" stroke-width="1.3"/>
<path d="M19.4,18.3 L16.9,23.2 L21.9,23.2 Z" fill="#111"/>
<path d="M19.4,37.9 H37" stroke="#111" stroke-width="1.3"/>
<path d="M40.4,37.9 L35.6,35.4 L35.6,40.4 Z" fill="#111"/>
<circle cx="19.4" cy="37.9" r="3.1" fill="#fff" stroke="#111" stroke-width="1.1"/>
<circle cx="19.4" cy="37.9" r="0.9" fill="#111"/>
<text x="22.2" y="30.4" font-size="11" textLength="23.1" lengthAdjust="spacingAndGlyphs" font-family="Liberation Serif, serif" fill="#333" stroke="#333" stroke-width="0.35">[110]</text>
<path d="M32.3,21.4 H36.5" stroke="#333" stroke-width="0.9"/>
<text x="45.9" y="32.7" font-size="7.4" font-weight="bold" textLength="15.0" lengthAdjust="spacingAndGlyphs" font-family="Liberation Sans, sans-serif" fill="#333">STO</text>
<text x="1.4" y="52.3" font-size="11.2" textLength="23.1" lengthAdjust="spacingAndGlyphs" font-family="Liberation Serif, serif" fill="#333" stroke="#333" stroke-width="0.35">[001]</text>
<text x="25.0" y="54.6" font-size="7.4" font-weight="bold" textLength="15.0" lengthAdjust="spacingAndGlyphs" font-family="Liberation Sans, sans-serif" fill="#333">STO</text>
<text transform="translate(12.8,39.7) rotate(-90)" font-size="11" textLength="23.1" lengthAdjust="spacingAndGlyphs" font-family="Liberation Serif, serif" fill="#333" stroke="#333" stroke-width="0.35">[110]</text>
<text transform="translate(16.3,17.6) rotate(-90)" font-size="7.4" font-weight="bold" textLength="15.6" lengthAdjust="spacingAndGlyphs" font-family="Liberation Sans, sans-serif" fill="#333">STO</text></g>
<rect x="174.2" y="494.20000000000005" width="6.400000000000006" height="62.69999999999993" fill="url(#hot)"/>
<path d="M174.2,494.20000000000005 V556.9" stroke="#555" stroke-width="0.8"/>
<path d="M174.2,494.20000000000005 H180.6 M174.2,556.9 H180.6" stroke="#333" stroke-width="1.1"/>
<path d="M180.1,494.20 H186.9" stroke="#333" stroke-width="1.25"/>
<text x="204.3" y="497.40" text-anchor="end" font-size="8.8" font-family="Liberation Sans, sans-serif" fill="#333">2.0</text>
<path d="M180.1,515.10 H186.9" stroke="#333" stroke-width="1.25"/>
<text x="204.3" y="518.30" text-anchor="end" font-size="8.8" font-family="Liberation Sans, sans-serif" fill="#333">0.0</text>
<path d="M180.1,536.00 H186.9" stroke="#333" stroke-width="1.25"/>
<text x="204.3" y="539.20" text-anchor="end" font-size="8.8" font-family="Liberation Sans, sans-serif" fill="#333">-2.0</text>
<path d="M180.1,556.90 H186.9" stroke="#333" stroke-width="1.25"/>
<text x="204.3" y="560.10" text-anchor="end" font-size="8.8" font-family="Liberation Sans, sans-serif" fill="#333">-4.0</text>
<text transform="translate(214.9,525.55) rotate(-90)" text-anchor="middle" font-size="9.0" font-family="Liberation Sans, sans-serif" fill="#333">Intensity (%)</text>
<text x="97.3" y="168.1" text-anchor="middle" font-size="16.4" font-family="Liberation Sans, sans-serif" fill="#222">(a)</text>
<text x="100" y="327.1" text-anchor="middle" font-size="16.4" font-family="Liberation Sans, sans-serif" fill="#222">(b)</text>
<text x="97.9" y="484.4" text-anchor="middle" font-size="16.4" font-family="Liberation Sans, sans-serif" fill="#222">(c)</text>
<text x="98.2" y="644.5" text-anchor="middle" font-size="16.4" font-family="Liberation Sans, sans-serif" fill="#222">(d)</text>
<text x="326" y="168.4" text-anchor="middle" font-size="16.4" font-family="Liberation Sans, sans-serif" fill="#222">(e)</text>
<text x="325.3" y="327" text-anchor="middle" font-size="16.4" font-family="Liberation Sans, sans-serif" fill="#222">(f)</text>
<text x="326.3" y="484.8" text-anchor="middle" font-size="16.4" font-family="Liberation Sans, sans-serif" fill="#222">(g)</text>
<text x="327" y="644.6" text-anchor="middle" font-size="16.4" font-family="Liberation Sans, sans-serif" fill="#222">(h)</text>
<text x="605" y="168.1" text-anchor="middle" font-size="16.4" font-family="Liberation Sans, sans-serif" fill="#222">(i)</text>
<text x="605.4" y="326.4" text-anchor="middle" font-size="16.4" font-family="Liberation Sans, sans-serif" fill="#222">(j)</text>
<text x="608" y="484.7" text-anchor="middle" font-size="16.4" font-family="Liberation Sans, sans-serif" fill="#222">(k)</text>
<text x="608.3" y="644.5" text-anchor="middle" font-size="16.4" font-family="Liberation Sans, sans-serif" fill="#222">(l)</text>
<clipPath id="mp0"><rect x="229.1" y="21.7" width="210.79999999999998" height="105.89999999999999"/></clipPath>
<g clip-path="url(#mp0)">
<rect x="229.1" y="21.7" width="210.79999999999998" height="105.89999999999999" fill="#f77a10"/>
<rect x="229.1" y="21.7" width="210.79999999999998" height="105.89999999999999" filter="url(#speck)"/>
<g transform="translate(0.00,0.00)" filter="url(#soft)">
<line x1="229" y1="60.8" x2="440" y2="60.8" stroke="#ffec40" stroke-width="1.95" opacity="0.69"/>
<line x1="229" y1="62.6" x2="440" y2="62.6" stroke="#c81800" stroke-width="1.80" opacity="0.44"/>
<line x1="263" y1="21" x2="263" y2="128" stroke="#ffec40" stroke-width="1.80" opacity="0.75"/>
<line x1="265" y1="21" x2="265" y2="128" stroke="#c81800" stroke-width="1.95" opacity="0.44"/>
<line x1="405.3" y1="21" x2="405.3" y2="128" stroke="#ffec40" stroke-width="1.80" opacity="0.75"/>
<line x1="403.4" y1="21" x2="403.4" y2="128" stroke="#c81800" stroke-width="1.95" opacity="0.44"/>
<line x1="294.5" y1="21.7" x2="400.4" y2="127.6" stroke="#ffec40" stroke-width="1.95" opacity="0.88"/>
<line x1="296.5" y1="21.7" x2="402.4" y2="127.6" stroke="#c81800" stroke-width="1.80" opacity="0.38"/>
<line x1="372.7" y1="21.7" x2="266.8" y2="127.6" stroke="#ffec40" stroke-width="1.95" opacity="0.88"/>
<line x1="370.7" y1="21.7" x2="264.8" y2="127.6" stroke="#c81800" stroke-width="1.80" opacity="0.38"/>
<line x1="229" y1="88" x2="302.6" y2="21.7" stroke="#ffec40" stroke-width="1.80" opacity="0.75"/>
<line x1="260.7" y1="21.7" x2="321.2" y2="127.6" stroke="#ffec40" stroke-width="1.65" opacity="0.62"/>
<line x1="406.5" y1="21.7" x2="346" y2="127.6" stroke="#ffec40" stroke-width="1.65" opacity="0.62"/>
<line x1="302" y1="94" x2="275.7" y2="127.6" stroke="#ffec40" stroke-width="1.65" opacity="0.62"/>
<line x1="368.7" y1="97.8" x2="392" y2="127.6" stroke="#ffec40" stroke-width="1.65" opacity="0.62"/>
<line x1="231.2" y1="96.1" x2="245.7" y2="79.2" stroke="#ffec40" stroke-width="1.65" opacity="0.62"/>
<line x1="245.7" y1="79.2" x2="263" y2="92" stroke="#ffec40" stroke-width="1.65" opacity="0.62"/>
<line x1="229" y1="70" x2="245.7" y2="79.2" stroke="#ffec40" stroke-width="1.65" opacity="0.50"/>
<line x1="231.2" y1="96.1" x2="250" y2="112" stroke="#ffec40" stroke-width="1.65" opacity="0.50"/>
<line x1="275.4" y1="21.7" x2="277" y2="127.6" stroke="#ffec40" stroke-width="1.65" opacity="0.56"/>
<line x1="293.8" y1="21.7" x2="293.8" y2="127.6" stroke="#ffec40" stroke-width="1.65" opacity="0.50"/>
<line x1="295.6" y1="21.7" x2="295.6" y2="127.6" stroke="#c81800" stroke-width="1.80" opacity="0.38"/>
<line x1="313" y1="37.7" x2="330.8" y2="57" stroke="#ffec40" stroke-width="1.65" opacity="0.62"/>
<line x1="336.4" y1="55.3" x2="376.6" y2="26.4" stroke="#ffec40" stroke-width="1.65" opacity="0.69"/>
<line x1="384.6" y1="39.3" x2="403.9" y2="55.3" stroke="#ffec40" stroke-width="1.65" opacity="0.56"/>
<line x1="324.3" y1="68.2" x2="350" y2="50" stroke="#ffec40" stroke-width="1.65" opacity="0.44"/>
<line x1="405" y1="110" x2="440" y2="80" stroke="#ffec40" stroke-width="1.65" opacity="0.56"/>
<line x1="415" y1="127.6" x2="440" y2="100" stroke="#ffec40" stroke-width="1.65" opacity="0.50"/>
<line x1="405" y1="50" x2="440" y2="28" stroke="#ffec40" stroke-width="1.65" opacity="0.44"/>
<line x1="229" y1="108" x2="300" y2="127.6" stroke="#ffec40" stroke-width="1.65" opacity="0.44"/>
<line x1="354" y1="21.7" x2="356" y2="60" stroke="#ffec40" stroke-width="1.65" opacity="0.50"/>
<line x1="338" y1="21.7" x2="338" y2="60" stroke="#ffec40" stroke-width="1.65" opacity="0.31"/>
</g>
<g filter="url(#blobf)" fill="#a81000" opacity="0.75">
<ellipse cx="265.9" cy="35.6" rx="8.2" ry="7.8"/>
<ellipse cx="307.5" cy="30.5" rx="5.4" ry="7.8"/>
<ellipse cx="386.2" cy="32.9" rx="5.8" ry="7.2" transform="rotate(-25 386.2 32.9)"/>
<ellipse cx="425.6" cy="80.0" rx="3.8" ry="5.8"/>
</g><g filter="url(#soft)" fill="#0a0000">
<path d="M259.3,36.4 L262.9,29.8 L267.9,31.0 L272.3,32.0 L270.7,37.2 L271.5,41.2 L265.4,42.0 L261.4,39.4 Z"/>
<ellipse cx="307.5" cy="30.5" rx="3.9" ry="6.3"/>
<ellipse cx="366.5" cy="25.6" rx="3.6" ry="3.2"/>
<ellipse cx="386.2" cy="32.9" rx="4.3" ry="5.8" transform="rotate(-25 386.2 32.9)"/>
<ellipse cx="390.2" cy="23.5" rx="2.4" ry="1.4"/>
<ellipse cx="425.6" cy="80.0" rx="2.5" ry="4.5"/>
<circle cx="294.5" cy="31.6" r="0.8"/>
</g>
</g>
<rect x="229.6" y="22.2" width="209.79999999999998" height="104.89999999999999" fill="none" stroke="#222" stroke-width="1.1"/>
<rect x="230.4" y="109.7" width="76.29999999999998" height="16.099999999999994" fill="#fff"/>
<text x="268.6" y="121.0" text-anchor="middle" font-size="10.3" font-weight="bold" font-family="Liberation Sans, sans-serif" fill="#111">0 kV/cm</text>
<path d="M333.6,77 V51" stroke="#4a78bf" stroke-width="2.6"/>
<path d="M333.6,46 L330.3,52.8 L336.9,52.8 Z" fill="#4a78bf"/>
<text x="237.3" y="71.7" font-size="11.5" textLength="18.7" lengthAdjust="spacingAndGlyphs" font-family="Liberation Serif, serif" font-weight="bold" fill="#ffec10">110</text>
<rect x="443.1" y="60.2" width="6.800000000000011" height="67.5" fill="url(#hot)"/>
<path d="M443.1,60.2 V127.7" stroke="#555" stroke-width="0.8"/>
<path d="M443.1,60.2 H449.90000000000003 M443.1,127.7 H449.90000000000003" stroke="#333" stroke-width="1.1"/>
<path d="M449.40000000000003,60.20 H456.20000000000005" stroke="#333" stroke-width="1.25"/>
<text x="474.6" y="63.40" text-anchor="end" font-size="8.9" font-family="Liberation Sans, sans-serif" fill="#333">2.0</text>
<path d="M449.40000000000003,82.70 H456.20000000000005" stroke="#333" stroke-width="1.25"/>
<text x="474.6" y="85.90" text-anchor="end" font-size="8.9" font-family="Liberation Sans, sans-serif" fill="#333">0.0</text>
<path d="M449.40000000000003,105.20 H456.20000000000005" stroke="#333" stroke-width="1.25"/>
<text x="474.6" y="108.40" text-anchor="end" font-size="8.9" font-family="Liberation Sans, sans-serif" fill="#333">-2.0</text>
<path d="M449.40000000000003,127.70 H456.20000000000005" stroke="#333" stroke-width="1.25"/>
<text x="474.6" y="130.90" text-anchor="end" font-size="8.9" font-family="Liberation Sans, sans-serif" fill="#333">-4.0</text>
<text transform="translate(486.6,93.95) rotate(-90)" text-anchor="middle" font-size="9.35" font-family="Liberation Sans, sans-serif" fill="#333">Intensity (%)</text>
<clipPath id="mp1"><rect x="230.5" y="176.4" width="210.3" height="105.6"/></clipPath>
<g clip-path="url(#mp1)">
<rect x="230.5" y="176.4" width="210.3" height="105.6" fill="#f77a10"/>
<rect x="230.5" y="176.4" width="210.3" height="105.6" filter="url(#speck)"/>
<g transform="translate(1.40,154.70)" filter="url(#soft)">
<line x1="229" y1="60.8" x2="440" y2="60.8" stroke="#ffec40" stroke-width="1.95" opacity="0.69"/>
<line x1="229" y1="62.6" x2="440" y2="62.6" stroke="#c81800" stroke-width="1.80" opacity="0.44"/>
<line x1="263" y1="21" x2="263" y2="128" stroke="#ffec40" stroke-width="1.80" opacity="0.75"/>
<line x1="265" y1="21" x2="265" y2="128" stroke="#c81800" stroke-width="1.95" opacity="0.44"/>
<line x1="405.3" y1="21" x2="405.3" y2="128" stroke="#ffec40" stroke-width="1.80" opacity="0.75"/>
<line x1="403.4" y1="21" x2="403.4" y2="128" stroke="#c81800" stroke-width="1.95" opacity="0.44"/>
<line x1="294.5" y1="21.7" x2="400.4" y2="127.6" stroke="#ffec40" stroke-width="1.95" opacity="0.88"/>
<line x1="296.5" y1="21.7" x2="402.4" y2="127.6" stroke="#c81800" stroke-width="1.80" opacity="0.38"/>
<line x1="372.7" y1="21.7" x2="266.8" y2="127.6" stroke="#ffec40" stroke-width="1.95" opacity="0.88"/>
<line x1="370.7" y1="21.7" x2="264.8" y2="127.6" stroke="#c81800" stroke-width="1.80" opacity="0.38"/>
<line x1="229" y1="88" x2="302.6" y2="21.7" stroke="#ffec40" stroke-width="1.80" opacity="0.75"/>
<line x1="260.7" y1="21.7" x2="321.2" y2="127.6" stroke="#ffec40" stroke-width="1.65" opacity="0.62"/>
<line x1="406.5" y1="21.7" x2="346" y2="127.6" stroke="#ffec40" stroke-width="1.65" opacity="0.62"/>
<line x1="302" y1="94" x2="275.7" y2="127.6" stroke="#ffec40" stroke-width="1.65" opacity="0.62"/>
<line x1="368.7" y1="97.8" x2="392" y2="127.6" stroke="#ffec40" stroke-width="1.65" opacity="0.62"/>
<line x1="231.2" y1="96.1" x2="245.7" y2="79.2" stroke="#ffec40" stroke-width="1.65" opacity="0.62"/>
<line x1="245.7" y1="79.2" x2="263" y2="92" stroke="#ffec40" stroke-width="1.65" opacity="0.62"/>
<line x1="229" y1="70" x2="245.7" y2="79.2" stroke="#ffec40" stroke-width="1.65" opacity="0.50"/>
<line x1="231.2" y1="96.1" x2="250" y2="112" stroke="#ffec40" stroke-width="1.65" opacity="0.50"/>
<line x1="275.4" y1="21.7" x2="277" y2="127.6" stroke="#ffec40" stroke-width="1.65" opacity="0.56"/>
<line x1="293.8" y1="21.7" x2="293.8" y2="127.6" stroke="#ffec40" stroke-width="1.65" opacity="0.50"/>
<line x1="295.6" y1="21.7" x2="295.6" y2="127.6" stroke="#c81800" stroke-width="1.80" opacity="0.38"/>
<line x1="313" y1="37.7" x2="330.8" y2="57" stroke="#ffec40" stroke-width="1.65" opacity="0.62"/>
<line x1="336.4" y1="55.3" x2="376.6" y2="26.4" stroke="#ffec40" stroke-width="1.65" opacity="0.69"/>
<line x1="384.6" y1="39.3" x2="403.9" y2="55.3" stroke="#ffec40" stroke-width="1.65" opacity="0.56"/>
<line x1="324.3" y1="68.2" x2="350" y2="50" stroke="#ffec40" stroke-width="1.65" opacity="0.44"/>
<line x1="405" y1="110" x2="440" y2="80" stroke="#ffec40" stroke-width="1.65" opacity="0.56"/>
<line x1="415" y1="127.6" x2="440" y2="100" stroke="#ffec40" stroke-width="1.65" opacity="0.50"/>
<line x1="405" y1="50" x2="440" y2="28" stroke="#ffec40" stroke-width="1.65" opacity="0.44"/>
<line x1="229" y1="108" x2="300" y2="127.6" stroke="#ffec40" stroke-width="1.65" opacity="0.44"/>
<line x1="354" y1="21.7" x2="356" y2="60" stroke="#ffec40" stroke-width="1.65" opacity="0.50"/>
<line x1="338" y1="21.7" x2="338" y2="60" stroke="#ffec40" stroke-width="1.65" opacity="0.31"/>
</g>
<g filter="url(#blobf)" fill="#a81000" opacity="0.75">
<ellipse cx="267.3" cy="190.3" rx="8.2" ry="7.8"/>
<ellipse cx="308.9" cy="185.2" rx="5.4" ry="7.8"/>
<ellipse cx="387.6" cy="187.6" rx="5.8" ry="7.2" transform="rotate(-25 387.6 187.6)"/>
<ellipse cx="427.0" cy="234.7" rx="3.8" ry="5.8"/>
</g><g filter="url(#soft)" fill="#0a0000">
<path d="M260.7,191.1 L264.3,184.5 L269.3,185.7 L273.7,186.7 L272.1,191.9 L272.9,195.9 L266.8,196.7 L262.8,194.1 Z"/>
<ellipse cx="308.9" cy="185.2" rx="3.9" ry="6.3"/>
<ellipse cx="367.9" cy="180.3" rx="3.6" ry="3.2"/>
<ellipse cx="387.6" cy="187.6" rx="4.3" ry="5.8" transform="rotate(-25 387.6 187.6)"/>
<ellipse cx="391.6" cy="178.2" rx="2.4" ry="1.4"/>
<ellipse cx="427.0" cy="234.7" rx="2.5" ry="4.5"/>
<circle cx="295.9" cy="186.3" r="0.8"/>
</g>
</g>
<rect x="231.0" y="176.9" width="209.3" height="104.6" fill="none" stroke="#222" stroke-width="1.1"/>
<rect x="232.0" y="264.5" width="77.10000000000002" height="16.0" fill="#fff"/>
<text x="270.6" y="276.5" text-anchor="middle" font-size="10.3" font-weight="bold" font-family="Liberation Sans, sans-serif" fill="#111">-50 kV/cm</text>
<path d="M336.5,231.5 V207.9" stroke="#4a78bf" stroke-width="2.6"/>
<path d="M336.5,202.9 L333.2,209.70000000000002 L339.8,209.70000000000002 Z" fill="#4a78bf"/>
<text x="236.6" y="227.4" font-size="11.5" textLength="18.7" lengthAdjust="spacingAndGlyphs" font-family="Liberation Serif, serif" font-weight="bold" fill="#ffec10">110</text>
<rect x="446.2" y="214.5" width="6.800000000000011" height="67.5" fill="url(#hot)"/>
<path d="M446.2,214.5 V282.0" stroke="#555" stroke-width="0.8"/>
<path d="M446.2,214.5 H453.0 M446.2,282.0 H453.0" stroke="#333" stroke-width="1.1"/>
<path d="M452.5,214.50 H459.3" stroke="#333" stroke-width="1.25"/>
<text x="477.7" y="217.70" text-anchor="end" font-size="8.9" font-family="Liberation Sans, sans-serif" fill="#333">2.0</text>
<path d="M452.5,237.00 H459.3" stroke="#333" stroke-width="1.25"/>
<text x="477.7" y="240.20" text-anchor="end" font-size="8.9" font-family="Liberation Sans, sans-serif" fill="#333">0.0</text>
<path d="M452.5,259.50 H459.3" stroke="#333" stroke-width="1.25"/>
<text x="477.7" y="262.70" text-anchor="end" font-size="8.9" font-family="Liberation Sans, sans-serif" fill="#333">-2.0</text>
<path d="M452.5,282.00 H459.3" stroke="#333" stroke-width="1.25"/>
<text x="477.7" y="285.20" text-anchor="end" font-size="8.9" font-family="Liberation Sans, sans-serif" fill="#333">-4.0</text>
<text transform="translate(489.7,248.25) rotate(-90)" text-anchor="middle" font-size="9.35" font-family="Liberation Sans, sans-serif" fill="#333">Intensity (%)</text>
<clipPath id="mp2"><rect x="232.0" y="336.0" width="210.7" height="105.19999999999999"/></clipPath>
<g clip-path="url(#mp2)">
<rect x="232.0" y="336.0" width="210.7" height="105.19999999999999" fill="#f77a10"/>
<rect x="232.0" y="336.0" width="210.7" height="105.19999999999999" filter="url(#speck)"/>
<g transform="translate(232.0,336.0)" filter="url(#soft)" fill="none">
<path d="M31.8,0 V106" stroke="#ffec40" stroke-width="1.80" opacity="0.75"/>
<path d="M33.8,0 V106" stroke="#c81800" stroke-width="1.80" opacity="0.38"/>
<path d="M176,0 V106" stroke="#ffec40" stroke-width="1.80" opacity="0.75"/>
<path d="M174,0 V106" stroke="#c81800" stroke-width="1.80" opacity="0.38"/>
<path d="M101,0 V106" stroke="#ffec40" stroke-width="1.65" opacity="0.38"/>
<path d="M0,85 Q100,38 211,72" stroke="#ffec40" stroke-width="1.65" opacity="0.56"/>
<path d="M40,106 Q60,50 112,0" stroke="#ffec40" stroke-width="1.65" opacity="0.62"/>
<path d="M150,0 Q190,40 200,106" stroke="#ffec40" stroke-width="1.65" opacity="0.62"/>
<path d="M28,35 L62,8" stroke="#ffec40" stroke-width="1.65" opacity="0.56"/>
<path d="M0,58 Q52,52 92,106" stroke="#ffec40" stroke-width="1.65" opacity="0.50"/>
<path d="M75,106 L132,40" stroke="#ffec40" stroke-width="1.65" opacity="0.44"/>
<path d="M120,106 Q105,60 88,30" stroke="#ffec40" stroke-width="1.65" opacity="0.44"/>
<path d="M130,0 Q160,60 140,106" stroke="#ffec40" stroke-width="1.65" opacity="0.50"/>
<path d="M0,30 L40,0" stroke="#ffec40" stroke-width="1.65" opacity="0.44"/>
<path d="M180,40 L211,10" stroke="#ffec40" stroke-width="1.65" opacity="0.50"/>
<path d="M185,106 L211,80" stroke="#ffec40" stroke-width="1.65" opacity="0.50"/>
<path d="M0,96 Q100,70 211,95" stroke="#ffec40" stroke-width="1.65" opacity="0.38"/>
<path d="M60,0 Q95,50 95,106" stroke="#ffec40" stroke-width="1.65" opacity="0.38"/>
</g>
<g filter="url(#blobf)" fill="#a81000" opacity="0.75">
<ellipse cx="268.8" cy="349.9" rx="8.2" ry="7.8"/>
<ellipse cx="310.4" cy="344.8" rx="5.4" ry="7.8"/>
<ellipse cx="389.1" cy="347.2" rx="5.8" ry="7.2" transform="rotate(-25 389.1 347.2)"/>
<ellipse cx="428.5" cy="394.3" rx="3.8" ry="5.8"/>
</g><g filter="url(#soft)" fill="#0a0000">
<path d="M262.2,350.7 L265.8,344.1 L270.8,345.3 L275.2,346.3 L273.6,351.5 L274.4,355.5 L268.3,356.3 L264.3,353.7 Z"/>
<ellipse cx="310.4" cy="344.8" rx="3.9" ry="6.3"/>
<ellipse cx="369.4" cy="339.9" rx="3.6" ry="3.2"/>
<ellipse cx="389.1" cy="347.2" rx="4.3" ry="5.8" transform="rotate(-25 389.1 347.2)"/>
<ellipse cx="393.1" cy="337.8" rx="2.4" ry="1.4"/>
<ellipse cx="428.5" cy="394.3" rx="2.5" ry="4.5"/>
<circle cx="297.4" cy="345.9" r="0.8"/>
</g>
</g>
<rect x="232.5" y="336.5" width="209.7" height="104.19999999999999" fill="none" stroke="#222" stroke-width="1.1"/>
<rect x="233.6" y="422.8" width="91.50000000000003" height="16.899999999999977" fill="#fff"/>
<text x="279.4" y="434.9" text-anchor="middle" font-size="10.3" font-weight="bold" font-family="Liberation Sans, sans-serif" fill="#111">-100 kV/cm</text>
<path d="M337.7,392.5 V366.8" stroke="#4a78bf" stroke-width="2.6"/>
<path d="M337.7,361.8 L334.4,368.6 L341.0,368.6 Z" fill="#4a78bf"/>
<text x="236.6" y="361.6" font-size="11.5" textLength="18.7" lengthAdjust="spacingAndGlyphs" font-family="Liberation Serif, serif" font-weight="bold" fill="#ffec10">110</text>
<text x="240.6" y="388.2" font-size="11.5" textLength="18.7" lengthAdjust="spacingAndGlyphs" font-family="Liberation Serif, serif" font-weight="bold" fill="#ffec10">110</text>
<rect x="446.6" y="373.3" width="6.800000000000011" height="67.5" fill="url(#hot)"/>
<path d="M446.6,373.3 V440.8" stroke="#555" stroke-width="0.8"/>
<path d="M446.6,373.3 H453.40000000000003 M446.6,440.8 H453.40000000000003" stroke="#333" stroke-width="1.1"/>
<path d="M452.90000000000003,373.30 H459.70000000000005" stroke="#333" stroke-width="1.25"/>
<text x="478.1" y="376.50" text-anchor="end" font-size="8.9" font-family="Liberation Sans, sans-serif" fill="#333">2.0</text>
<path d="M452.90000000000003,395.80 H459.70000000000005" stroke="#333" stroke-width="1.25"/>
<text x="478.1" y="399.00" text-anchor="end" font-size="8.9" font-family="Liberation Sans, sans-serif" fill="#333">0.0</text>
<path d="M452.90000000000003,418.30 H459.70000000000005" stroke="#333" stroke-width="1.25"/>
<text x="478.1" y="421.50" text-anchor="end" font-size="8.9" font-family="Liberation Sans, sans-serif" fill="#333">-2.0</text>
<path d="M452.90000000000003,440.80 H459.70000000000005" stroke="#333" stroke-width="1.25"/>
<text x="478.1" y="444.00" text-anchor="end" font-size="8.9" font-family="Liberation Sans, sans-serif" fill="#333">-4.0</text>
<text transform="translate(490.1,407.05) rotate(-90)" text-anchor="middle" font-size="9.35" font-family="Liberation Sans, sans-serif" fill="#333">Intensity (%)</text>
<clipPath id="mp3"><rect x="230.8" y="498.5" width="210.0" height="105.39999999999998"/></clipPath>
<g clip-path="url(#mp3)">
<rect x="230.8" y="498.5" width="210.0" height="105.39999999999998" fill="#f77a10"/>
<rect x="230.8" y="498.5" width="210.0" height="105.39999999999998" filter="url(#speck)"/>
<g transform="translate(230.8,498.5)" filter="url(#soft)" fill="none">
<path d="M0,39.1 H211" stroke="#ffec40" stroke-width="1.80" opacity="0.50"/>
<path d="M0,41 H211" stroke="#c81800" stroke-width="1.80" opacity="0.38"/>
<path d="M32,0 V106" stroke="#ffec40" stroke-width="1.80" opacity="0.69"/>
<path d="M34,0 V106" stroke="#c81800" stroke-width="1.80" opacity="0.38"/>
<path d="M175.7,0 V106" stroke="#ffec40" stroke-width="1.80" opacity="0.69"/>
<path d="M173.7,0 V106" stroke="#c81800" stroke-width="1.80" opacity="0.38"/>
<path d="M17,89 Q40,15 120,11" stroke="#ffec40" stroke-width="1.80" opacity="0.75"/>
<path d="M101,27 Q165,40 186,108" stroke="#ffec40" stroke-width="1.80" opacity="0.75"/>
<path d="M29,58 Q92,36 145,49" stroke="#ffec40" stroke-width="1.80" opacity="0.69"/>
<path d="M101.3,26.6 L54.5,76.6" stroke="#ffec40" stroke-width="1.65" opacity="0.62"/>
<path d="M101.3,26.6 L145,76.6" stroke="#ffec40" stroke-width="1.65" opacity="0.62"/>
<path d="M82.6,0 L101.3,26.6 L120,0" stroke="#ffec40" stroke-width="1.65" opacity="0.62"/>
<path d="M36,108 Q55,45 101,27" stroke="#ffec40" stroke-width="1.80" opacity="0.69"/>
<path d="M101,27 Q145,40 161,108" stroke="#ffec40" stroke-width="1.80" opacity="0.62"/>
<path d="M0,70 L30,106" stroke="#ffec40" stroke-width="1.65" opacity="0.44"/>
<path d="M180,60 L211,30" stroke="#ffec40" stroke-width="1.65" opacity="0.50"/>
<path d="M190,106 L211,85" stroke="#ffec40" stroke-width="1.65" opacity="0.50"/>
<path d="M0,20 Q20,10 35,0" stroke="#ffec40" stroke-width="1.65" opacity="0.44"/>
<path d="M54.5,76.6 L30,106" stroke="#ffec40" stroke-width="1.65" opacity="0.50"/>
<path d="M145,76.6 L170,106" stroke="#ffec40" stroke-width="1.65" opacity="0.50"/>
<path d="M60,106 Q100,80 140,106" stroke="#ffec40" stroke-width="1.65" opacity="0.44"/>
</g>
<g filter="url(#blobf)" fill="#a81000" opacity="0.75">
<ellipse cx="267.6" cy="512.4" rx="8.2" ry="7.8"/>
<ellipse cx="309.2" cy="507.3" rx="5.4" ry="7.8"/>
<ellipse cx="387.9" cy="509.7" rx="5.8" ry="7.2" transform="rotate(-25 387.9 509.7)"/>
<ellipse cx="427.3" cy="556.8" rx="3.8" ry="5.8"/>
</g><g filter="url(#soft)" fill="#0a0000">
<path d="M261.0,513.2 L264.6,506.6 L269.6,507.8 L274.0,508.8 L272.4,514.0 L273.2,518.0 L267.1,518.8 L263.1,516.2 Z"/>
<ellipse cx="309.2" cy="507.3" rx="3.9" ry="6.3"/>
<ellipse cx="368.2" cy="502.4" rx="3.6" ry="3.2"/>
<ellipse cx="387.9" cy="509.7" rx="4.3" ry="5.8" transform="rotate(-25 387.9 509.7)"/>
<ellipse cx="391.9" cy="500.3" rx="2.4" ry="1.4"/>
<ellipse cx="427.3" cy="556.8" rx="2.5" ry="4.5"/>
<circle cx="296.2" cy="508.4" r="0.8"/>
</g>
</g>
<rect x="231.3" y="499.0" width="209.0" height="104.39999999999998" fill="none" stroke="#222" stroke-width="1.1"/>
<rect x="231.2" y="587.5" width="91.80000000000001" height="16.100000000000023" fill="#fff"/>
<text x="277.1" y="599.1" text-anchor="middle" font-size="10.3" font-weight="bold" font-family="Liberation Sans, sans-serif" fill="#111">-200 kV/cm</text>
<path d="M333.2,555.6 V530" stroke="#4a78bf" stroke-width="2.6"/>
<path d="M333.2,525 L329.9,531.8 L336.5,531.8 Z" fill="#4a78bf"/>
<text x="236.6" y="535.1" font-size="11.5" textLength="18.7" lengthAdjust="spacingAndGlyphs" font-family="Liberation Serif, serif" font-weight="bold" fill="#ffec10">110</text>
<rect x="446.0" y="536.4" width="6.800000000000011" height="67.5" fill="url(#hot)"/>
<path d="M446.0,536.4 V603.9" stroke="#555" stroke-width="0.8"/>
<path d="M446.0,536.4 H452.8 M446.0,603.9 H452.8" stroke="#333" stroke-width="1.1"/>
<path d="M452.3,536.40 H459.1" stroke="#333" stroke-width="1.25"/>
<text x="477.5" y="539.60" text-anchor="end" font-size="8.9" font-family="Liberation Sans, sans-serif" fill="#333">2.0</text>
<path d="M452.3,558.90 H459.1" stroke="#333" stroke-width="1.25"/>
<text x="477.5" y="562.10" text-anchor="end" font-size="8.9" font-family="Liberation Sans, sans-serif" fill="#333">0.0</text>
<path d="M452.3,581.40 H459.1" stroke="#333" stroke-width="1.25"/>
<text x="477.5" y="584.60" text-anchor="end" font-size="8.9" font-family="Liberation Sans, sans-serif" fill="#333">-2.0</text>
<path d="M452.3,603.90 H459.1" stroke="#333" stroke-width="1.25"/>
<text x="477.5" y="607.10" text-anchor="end" font-size="8.9" font-family="Liberation Sans, sans-serif" fill="#333">-4.0</text>
<text transform="translate(489.5,570.15) rotate(-90)" text-anchor="middle" font-size="9.35" font-family="Liberation Sans, sans-serif" fill="#333">Intensity (%)</text>
<rect x="529.6" y="20.5" width="148.39999999999998" height="105.80" fill="none" stroke="#333" stroke-width="1"/>
<path d="M529.60,126.30 v-2.2 M529.60,20.5 v2.2" stroke="#333" stroke-width="0.8"/>
<path d="M554.32,126.30 v-2.2 M554.32,20.5 v2.2" stroke="#333" stroke-width="0.8"/>
<path d="M579.04,126.30 v-2.2 M579.04,20.5 v2.2" stroke="#333" stroke-width="0.8"/>
<path d="M603.76,126.30 v-2.2 M603.76,20.5 v2.2" stroke="#333" stroke-width="0.8"/>
<path d="M628.48,126.30 v-2.2 M628.48,20.5 v2.2" stroke="#333" stroke-width="0.8"/>
<path d="M653.20,126.30 v-2.2 M653.20,20.5 v2.2" stroke="#333" stroke-width="0.8"/>
<path d="M677.92,126.30 v-2.2 M677.92,20.5 v2.2" stroke="#333" stroke-width="0.8"/>
<path d="M529.6,20.50 h2.2 M678.0,20.50 h-2.2" stroke="#333" stroke-width="0.8"/>
<path d="M529.6,31.08 h1.2 M678.0,31.08 h-1.2" stroke="#333" stroke-width="0.8"/>
<path d="M529.6,41.66 h2.2 M678.0,41.66 h-2.2" stroke="#333" stroke-width="0.8"/>
<path d="M529.6,52.24 h1.2 M678.0,52.24 h-1.2" stroke="#333" stroke-width="0.8"/>
<path d="M529.6,62.82 h2.2 M678.0,62.82 h-2.2" stroke="#333" stroke-width="0.8"/>
<path d="M529.6,73.40 h1.2 M678.0,73.40 h-1.2" stroke="#333" stroke-width="0.8"/>
<path d="M529.6,83.98 h2.2 M678.0,83.98 h-2.2" stroke="#333" stroke-width="0.8"/>
<path d="M529.6,94.56 h1.2 M678.0,94.56 h-1.2" stroke="#333" stroke-width="0.8"/>
<path d="M529.6,105.14 h2.2 M678.0,105.14 h-2.2" stroke="#333" stroke-width="0.8"/>
<path d="M529.6,115.72 h1.2 M678.0,115.72 h-1.2" stroke="#333" stroke-width="0.8"/>
<path d="M529.6,126.30 h2.2 M678.0,126.30 h-2.2" stroke="#333" stroke-width="0.8"/>
<text x="529.60" y="137.80" text-anchor="middle" font-size="11.2" font-family="Liberation Sans, sans-serif" fill="#222">16</text>
<text x="579.04" y="137.80" text-anchor="middle" font-size="11.2" font-family="Liberation Sans, sans-serif" fill="#222">18</text>
<text x="628.48" y="137.80" text-anchor="middle" font-size="11.2" font-family="Liberation Sans, sans-serif" fill="#222">20</text>
<text x="677.92" y="137.80" text-anchor="middle" font-size="11.2" font-family="Liberation Sans, sans-serif" fill="#222">22</text>
<text x="527.60" y="24.50" text-anchor="end" font-size="11" font-family="Liberation Sans, sans-serif" fill="#222">1.5</text>
<text x="527.60" y="45.66" text-anchor="end" font-size="11" font-family="Liberation Sans, sans-serif" fill="#222">1</text>
<text x="527.60" y="66.82" text-anchor="end" font-size="11" font-family="Liberation Sans, sans-serif" fill="#222">0.5</text>
<text x="527.60" y="87.98" text-anchor="end" font-size="11" font-family="Liberation Sans, sans-serif" fill="#222">0</text>
<text x="527.60" y="109.14" text-anchor="end" font-size="11" font-family="Liberation Sans, sans-serif" fill="#222">−0.5</text>
<text x="527.60" y="130.30" text-anchor="end" font-size="11" font-family="Liberation Sans, sans-serif" fill="#222">−1</text>
<text transform="translate(504.30,70.75) rotate(-90)" text-anchor="middle" font-size="11.2" font-family="Liberation Sans, sans-serif" fill="#222">Intensyty (%)</text>
<text x="596.2" y="150.30" text-anchor="middle" font-size="10.8" font-family="Liberation Sans, sans-serif" fill="#222">θ (deg)</text>
<path d="M588.19,22.80 V115.50" stroke="#2a86d0" stroke-width="1.6" stroke-dasharray="5.8 3.9"/>
<path d="M600.92,22.80 V109.60" stroke="#2a86d0" stroke-width="1.6" stroke-dasharray="5.8 3.9"/>
<g fill="#0000ff"><circle cx="529.8" cy="82.5" r="2.1"/><circle cx="530.8" cy="82.0" r="2.1"/><circle cx="531.7" cy="82.3" r="2.1"/><circle cx="532.7" cy="81.3" r="2.1"/><circle cx="533.6" cy="81.5" r="2.1"/><circle cx="534.6" cy="81.4" r="2.1"/><circle cx="535.5" cy="81.6" r="2.1"/><circle cx="536.5" cy="82.8" r="2.1"/><circle cx="537.4" cy="82.8" r="2.1"/><circle cx="538.4" cy="83.9" r="2.1"/><circle cx="539.3" cy="84.1" r="2.1"/><circle cx="540.3" cy="84.7" r="2.1"/><circle cx="541.2" cy="85.0" r="2.1"/><circle cx="542.2" cy="84.6" r="2.1"/><circle cx="543.1" cy="83.0" r="2.1"/><circle cx="544.1" cy="82.0" r="2.1"/><circle cx="545.0" cy="81.3" r="2.1"/><circle cx="546.0" cy="81.5" r="2.1"/><circle cx="546.9" cy="81.4" r="2.1"/><circle cx="547.9" cy="81.6" r="2.1"/><circle cx="548.8" cy="82.7" r="2.1"/><circle cx="549.8" cy="81.2" r="2.1"/><circle cx="550.7" cy="81.5" r="2.1"/><circle cx="551.7" cy="80.2" r="2.1"/><circle cx="552.6" cy="79.0" r="2.1"/><circle cx="553.6" cy="77.7" r="2.1"/><circle cx="554.5" cy="78.5" r="2.1"/><circle cx="555.5" cy="81.3" r="2.1"/><circle cx="556.4" cy="82.7" r="2.1"/><circle cx="557.4" cy="84.1" r="2.1"/><circle cx="558.3" cy="85.2" r="2.1"/><circle cx="559.3" cy="85.8" r="2.1"/><circle cx="560.2" cy="86.8" r="2.1"/><circle cx="561.2" cy="87.1" r="2.1"/><circle cx="562.1" cy="88.0" r="2.1"/><circle cx="563.1" cy="88.9" r="2.1"/><circle cx="564.0" cy="89.5" r="2.1"/><circle cx="565.0" cy="89.3" r="2.1"/><circle cx="565.9" cy="89.2" r="2.1"/><circle cx="566.9" cy="89.6" r="2.1"/><circle cx="567.8" cy="89.6" r="2.1"/><circle cx="568.8" cy="89.6" r="2.1"/><circle cx="569.7" cy="90.4" r="2.1"/><circle cx="570.7" cy="90.5" r="2.1"/><circle cx="571.6" cy="90.1" r="2.1"/><circle cx="572.6" cy="91.0" r="2.1"/><circle cx="573.5" cy="91.9" r="2.1"/><circle cx="574.5" cy="93.3" r="2.1"/><circle cx="575.4" cy="94.2" r="2.1"/><circle cx="576.4" cy="94.8" r="2.1"/><circle cx="577.3" cy="96.7" r="2.1"/><circle cx="578.3" cy="96.4" r="2.1"/><circle cx="579.2" cy="97.3" r="2.1"/><circle cx="580.2" cy="98.2" r="2.1"/><circle cx="581.1" cy="97.9" r="2.1"/><circle cx="582.1" cy="99.0" r="2.1"/><circle cx="583.0" cy="99.1" r="2.1"/><circle cx="584.0" cy="100.5" r="2.1"/><circle cx="584.9" cy="101.3" r="2.1"/><circle cx="585.9" cy="102.5" r="2.1"/><circle cx="586.8" cy="104.3" r="2.1"/><circle cx="587.8" cy="105.0" r="2.1"/><circle cx="588.7" cy="104.4" r="2.1"/><circle cx="589.7" cy="103.1" r="2.1"/><circle cx="590.6" cy="99.1" r="2.1"/><circle cx="591.6" cy="93.4" r="2.1"/><circle cx="592.5" cy="86.6" r="2.1"/><circle cx="593.5" cy="78.4" r="2.1"/><circle cx="594.4" cy="72.5" r="2.1"/><circle cx="595.4" cy="68.3" r="2.1"/><circle cx="596.3" cy="63.4" r="2.1"/><circle cx="597.3" cy="60.5" r="2.1"/><circle cx="598.2" cy="56.7" r="2.1"/><circle cx="599.2" cy="54.4" r="2.1"/><circle cx="600.1" cy="52.0" r="2.1"/><circle cx="601.1" cy="49.9" r="2.1"/><circle cx="602.0" cy="50.9" r="2.1"/><circle cx="603.0" cy="52.1" r="2.1"/><circle cx="603.9" cy="52.2" r="2.1"/><circle cx="604.9" cy="54.6" r="2.1"/><circle cx="605.8" cy="56.1" r="2.1"/><circle cx="606.8" cy="58.0" r="2.1"/><circle cx="607.7" cy="59.5" r="2.1"/><circle cx="608.7" cy="61.6" r="2.1"/><circle cx="609.6" cy="62.0" r="2.1"/><circle cx="610.6" cy="63.4" r="2.1"/><circle cx="611.5" cy="64.7" r="2.1"/><circle cx="612.5" cy="66.7" r="2.1"/><circle cx="613.4" cy="67.5" r="2.1"/><circle cx="614.4" cy="69.6" r="2.1"/><circle cx="615.3" cy="71.4" r="2.1"/><circle cx="616.3" cy="73.4" r="2.1"/><circle cx="617.2" cy="74.4" r="2.1"/><circle cx="618.2" cy="75.2" r="2.1"/><circle cx="619.1" cy="75.2" r="2.1"/><circle cx="620.1" cy="76.0" r="2.1"/><circle cx="621.0" cy="76.7" r="2.1"/><circle cx="622.0" cy="77.9" r="2.1"/><circle cx="622.9" cy="78.6" r="2.1"/><circle cx="623.9" cy="78.2" r="2.1"/><circle cx="624.8" cy="78.8" r="2.1"/><circle cx="625.8" cy="79.4" r="2.1"/><circle cx="626.7" cy="80.0" r="2.1"/><circle cx="627.7" cy="80.9" r="2.1"/><circle cx="628.6" cy="81.3" r="2.1"/><circle cx="629.6" cy="80.9" r="2.1"/><circle cx="630.5" cy="80.6" r="2.1"/><circle cx="631.5" cy="81.1" r="2.1"/><circle cx="632.4" cy="81.0" r="2.1"/><circle cx="633.4" cy="81.3" r="2.1"/><circle cx="634.3" cy="81.7" r="2.1"/><circle cx="635.3" cy="81.5" r="2.1"/><circle cx="636.2" cy="81.5" r="2.1"/><circle cx="637.2" cy="81.8" r="2.1"/><circle cx="638.1" cy="82.1" r="2.1"/><circle cx="639.1" cy="81.6" r="2.1"/><circle cx="640.0" cy="82.8" r="2.1"/><circle cx="641.0" cy="82.9" r="2.1"/><circle cx="641.9" cy="83.2" r="2.1"/><circle cx="642.9" cy="83.7" r="2.1"/><circle cx="643.8" cy="83.9" r="2.1"/><circle cx="644.8" cy="84.5" r="2.1"/><circle cx="645.7" cy="84.8" r="2.1"/><circle cx="646.7" cy="86.0" r="2.1"/><circle cx="647.6" cy="86.0" r="2.1"/><circle cx="648.6" cy="86.6" r="2.1"/><circle cx="649.5" cy="87.2" r="2.1"/><circle cx="650.5" cy="87.3" r="2.1"/><circle cx="651.4" cy="87.8" r="2.1"/><circle cx="652.4" cy="87.6" r="2.1"/><circle cx="653.3" cy="87.8" r="2.1"/><circle cx="654.3" cy="88.2" r="2.1"/><circle cx="655.2" cy="88.4" r="2.1"/><circle cx="656.2" cy="88.8" r="2.1"/><circle cx="657.1" cy="88.2" r="2.1"/><circle cx="658.1" cy="89.1" r="2.1"/><circle cx="659.0" cy="88.6" r="2.1"/><circle cx="660.0" cy="87.9" r="2.1"/><circle cx="660.9" cy="87.8" r="2.1"/><circle cx="661.9" cy="87.8" r="2.1"/><circle cx="662.8" cy="87.6" r="2.1"/><circle cx="663.8" cy="87.2" r="2.1"/><circle cx="664.7" cy="87.9" r="2.1"/><circle cx="665.7" cy="87.4" r="2.1"/><circle cx="666.6" cy="85.9" r="2.1"/><circle cx="667.6" cy="84.9" r="2.1"/><circle cx="668.5" cy="83.5" r="2.1"/><circle cx="669.5" cy="82.6" r="2.1"/><circle cx="670.4" cy="81.9" r="2.1"/><circle cx="671.4" cy="80.8" r="2.1"/><circle cx="672.3" cy="80.3" r="2.1"/><circle cx="673.3" cy="78.3" r="2.1"/><circle cx="674.2" cy="76.9" r="2.1"/><circle cx="675.2" cy="76.9" r="2.1"/><circle cx="676.1" cy="76.3" r="2.1"/><circle cx="677.1" cy="76.5" r="2.1"/><circle cx="678.0" cy="77.6" r="2.1"/></g>
<text x="675.80" y="31.60" text-anchor="end" font-size="10.4" font-family="Liberation Sans, sans-serif" fill="#222">0 kV/cm</text>
<text x="675.00" y="43.30" text-anchor="end" font-size="10.4" font-family="Liberation Sans, sans-serif" fill="#222">Fe K<tspan font-family="Liberation Serif, serif" font-size="11">α</tspan></text>
<text x="587.40" y="124.90" font-size="10.5" textLength="16.4" lengthAdjust="spacingAndGlyphs" font-family="Liberation Serif, serif" fill="#222">110</text>
<path d="M587.40,116.30 h4.60" stroke="#555" stroke-width="0.7"/>
<path d="M593.00,116.30 h4.40" stroke="#555" stroke-width="0.7"/>
<rect x="529.6" y="177.5" width="148.39999999999998" height="105.80" fill="none" stroke="#333" stroke-width="1"/>
<path d="M529.60,283.30 v-2.2 M529.60,177.5 v2.2" stroke="#333" stroke-width="0.8"/>
<path d="M554.32,283.30 v-2.2 M554.32,177.5 v2.2" stroke="#333" stroke-width="0.8"/>
<path d="M579.04,283.30 v-2.2 M579.04,177.5 v2.2" stroke="#333" stroke-width="0.8"/>
<path d="M603.76,283.30 v-2.2 M603.76,177.5 v2.2" stroke="#333" stroke-width="0.8"/>
<path d="M628.48,283.30 v-2.2 M628.48,177.5 v2.2" stroke="#333" stroke-width="0.8"/>
<path d="M653.20,283.30 v-2.2 M653.20,177.5 v2.2" stroke="#333" stroke-width="0.8"/>
<path d="M677.92,283.30 v-2.2 M677.92,177.5 v2.2" stroke="#333" stroke-width="0.8"/>
<path d="M529.6,177.50 h2.2 M678.0,177.50 h-2.2" stroke="#333" stroke-width="0.8"/>
<path d="M529.6,188.08 h1.2 M678.0,188.08 h-1.2" stroke="#333" stroke-width="0.8"/>
<path d="M529.6,198.66 h2.2 M678.0,198.66 h-2.2" stroke="#333" stroke-width="0.8"/>
<path d="M529.6,209.24 h1.2 M678.0,209.24 h-1.2" stroke="#333" stroke-width="0.8"/>
<path d="M529.6,219.82 h2.2 M678.0,219.82 h-2.2" stroke="#333" stroke-width="0.8"/>
<path d="M529.6,230.40 h1.2 M678.0,230.40 h-1.2" stroke="#333" stroke-width="0.8"/>
<path d="M529.6,240.98 h2.2 M678.0,240.98 h-2.2" stroke="#333" stroke-width="0.8"/>
<path d="M529.6,251.56 h1.2 M678.0,251.56 h-1.2" stroke="#333" stroke-width="0.8"/>
<path d="M529.6,262.14 h2.2 M678.0,262.14 h-2.2" stroke="#333" stroke-width="0.8"/>
<path d="M529.6,272.72 h1.2 M678.0,272.72 h-1.2" stroke="#333" stroke-width="0.8"/>
<path d="M529.6,283.30 h2.2 M678.0,283.30 h-2.2" stroke="#333" stroke-width="0.8"/>
<text x="529.60" y="294.80" text-anchor="middle" font-size="11.2" font-family="Liberation Sans, sans-serif" fill="#222">16</text>
<text x="579.04" y="294.80" text-anchor="middle" font-size="11.2" font-family="Liberation Sans, sans-serif" fill="#222">18</text>
<text x="628.48" y="294.80" text-anchor="middle" font-size="11.2" font-family="Liberation Sans, sans-serif" fill="#222">20</text>
<text x="677.92" y="294.80" text-anchor="middle" font-size="11.2" font-family="Liberation Sans, sans-serif" fill="#222">22</text>
<text x="527.60" y="181.50" text-anchor="end" font-size="11" font-family="Liberation Sans, sans-serif" fill="#222">1.5</text>
<text x="527.60" y="202.66" text-anchor="end" font-size="11" font-family="Liberation Sans, sans-serif" fill="#222">1</text>
<text x="527.60" y="223.82" text-anchor="end" font-size="11" font-family="Liberation Sans, sans-serif" fill="#222">0.5</text>
<text x="527.60" y="244.98" text-anchor="end" font-size="11" font-family="Liberation Sans, sans-serif" fill="#222">0</text>
<text x="527.60" y="266.14" text-anchor="end" font-size="11" font-family="Liberation Sans, sans-serif" fill="#222">−0.5</text>
<text x="527.60" y="287.30" text-anchor="end" font-size="11" font-family="Liberation Sans, sans-serif" fill="#222">−1</text>
<text transform="translate(504.30,227.75) rotate(-90)" text-anchor="middle" font-size="11.2" font-family="Liberation Sans, sans-serif" fill="#222">Intensyty (%)</text>
<text x="596.2" y="307.30" text-anchor="middle" font-size="10.8" font-family="Liberation Sans, sans-serif" fill="#222">θ (deg)</text>
<path d="M587.79,179.80 V266.00" stroke="#2a86d0" stroke-width="1.6" stroke-dasharray="5.8 3.9"/>
<path d="M600.42,179.80 V265.00" stroke="#2a86d0" stroke-width="1.6" stroke-dasharray="5.8 3.9"/>
<path d="M528.7,239.3 L532.4,241.1 L536.1,243.0 L539.8,242.1 L542.6,237.4 L545.3,235.0 L549.0,236.9 L553.6,233.7 L556.4,237.4 L559.2,241.1 L562.0,245.8 L565.6,247.6 L569.3,250.4 L574.0,250.4 L577.7,254.1 L581.4,258.3 L585.0,262.4 L587.4,266.1 L589.7,262.4 L591.9,253.1 L593.7,240.2 L596.1,223.6 L597.9,210.6 L600.5,204.2 L603.3,209.7 L605.2,216.2 L607.9,224.5 L610.7,229.1 L613.5,231.9 L617.2,235.6 L621.8,237.5 L626.4,238.8 L631.0,239.3 L635.7,240.6 L640.3,239.3 L644.9,241.1 L648.6,245.8 L653.2,247.6 L657.8,248.5 L663.4,247.6 L667.1,245.8 L670.8,241.1 L674.5,238.4 L677.6,237.5" fill="none" stroke="#ff0000" stroke-width="1.2"/>
<g fill="#ff0000"><circle cx="529.8" cy="239.3" r="1.95"/><circle cx="530.8" cy="240.3" r="1.95"/><circle cx="531.7" cy="241.3" r="1.95"/><circle cx="532.7" cy="241.7" r="1.95"/><circle cx="533.6" cy="242.0" r="1.95"/><circle cx="534.6" cy="241.9" r="1.95"/><circle cx="535.5" cy="242.5" r="1.95"/><circle cx="536.5" cy="242.5" r="1.95"/><circle cx="537.4" cy="243.0" r="1.95"/><circle cx="538.4" cy="242.5" r="1.95"/><circle cx="539.3" cy="242.6" r="1.95"/><circle cx="540.3" cy="241.1" r="1.95"/><circle cx="541.2" cy="239.4" r="1.95"/><circle cx="542.2" cy="238.5" r="1.95"/><circle cx="543.1" cy="237.5" r="1.95"/><circle cx="544.1" cy="236.5" r="1.95"/><circle cx="545.0" cy="235.6" r="1.95"/><circle cx="546.0" cy="235.7" r="1.95"/><circle cx="546.9" cy="236.1" r="1.95"/><circle cx="547.9" cy="236.0" r="1.95"/><circle cx="548.8" cy="236.8" r="1.95"/><circle cx="549.8" cy="236.2" r="1.95"/><circle cx="550.7" cy="235.2" r="1.95"/><circle cx="551.7" cy="234.5" r="1.95"/><circle cx="552.6" cy="234.1" r="1.95"/><circle cx="553.6" cy="233.4" r="1.95"/><circle cx="554.5" cy="235.1" r="1.95"/><circle cx="555.5" cy="236.7" r="1.95"/><circle cx="556.4" cy="237.3" r="1.95"/><circle cx="557.4" cy="239.2" r="1.95"/><circle cx="558.3" cy="240.5" r="1.95"/><circle cx="559.3" cy="241.7" r="1.95"/><circle cx="560.2" cy="242.6" r="1.95"/><circle cx="561.2" cy="244.0" r="1.95"/><circle cx="562.1" cy="245.5" r="1.95"/><circle cx="563.1" cy="246.0" r="1.95"/><circle cx="564.0" cy="246.4" r="1.95"/><circle cx="565.0" cy="247.4" r="1.95"/><circle cx="565.9" cy="248.3" r="1.95"/><circle cx="566.9" cy="249.0" r="1.95"/><circle cx="567.8" cy="249.2" r="1.95"/><circle cx="568.8" cy="250.2" r="1.95"/><circle cx="569.7" cy="250.8" r="1.95"/><circle cx="570.7" cy="249.9" r="1.95"/><circle cx="571.6" cy="250.6" r="1.95"/><circle cx="572.6" cy="250.9" r="1.95"/><circle cx="573.5" cy="250.7" r="1.95"/><circle cx="574.5" cy="251.2" r="1.95"/><circle cx="575.4" cy="251.8" r="1.95"/><circle cx="576.4" cy="252.4" r="1.95"/><circle cx="577.3" cy="254.0" r="1.95"/><circle cx="578.3" cy="254.5" r="1.95"/><circle cx="579.2" cy="256.2" r="1.95"/><circle cx="580.2" cy="257.4" r="1.95"/><circle cx="581.1" cy="257.8" r="1.95"/><circle cx="582.1" cy="258.9" r="1.95"/><circle cx="583.0" cy="260.7" r="1.95"/><circle cx="584.0" cy="261.5" r="1.95"/><circle cx="584.9" cy="261.9" r="1.95"/><circle cx="585.9" cy="263.3" r="1.95"/><circle cx="586.8" cy="264.8" r="1.95"/><circle cx="587.8" cy="266.0" r="1.95"/><circle cx="588.7" cy="264.4" r="1.95"/><circle cx="589.7" cy="262.1" r="1.95"/><circle cx="590.6" cy="259.0" r="1.95"/><circle cx="591.6" cy="255.2" r="1.95"/><circle cx="592.5" cy="249.0" r="1.95"/><circle cx="593.5" cy="241.8" r="1.95"/><circle cx="594.4" cy="235.4" r="1.95"/><circle cx="595.4" cy="228.3" r="1.95"/><circle cx="596.3" cy="221.6" r="1.95"/><circle cx="597.3" cy="215.9" r="1.95"/><circle cx="598.2" cy="210.0" r="1.95"/><circle cx="599.2" cy="207.6" r="1.95"/><circle cx="600.1" cy="205.7" r="1.95"/><circle cx="601.1" cy="205.2" r="1.95"/><circle cx="602.0" cy="207.6" r="1.95"/><circle cx="603.0" cy="209.4" r="1.95"/><circle cx="603.9" cy="211.4" r="1.95"/><circle cx="604.9" cy="214.7" r="1.95"/><circle cx="605.8" cy="217.8" r="1.95"/><circle cx="606.8" cy="220.7" r="1.95"/><circle cx="607.7" cy="224.0" r="1.95"/><circle cx="608.7" cy="225.4" r="1.95"/><circle cx="609.6" cy="227.2" r="1.95"/><circle cx="610.6" cy="228.4" r="1.95"/><circle cx="611.5" cy="230.4" r="1.95"/><circle cx="612.5" cy="230.7" r="1.95"/><circle cx="613.4" cy="231.7" r="1.95"/><circle cx="614.4" cy="232.9" r="1.95"/><circle cx="615.3" cy="234.2" r="1.95"/><circle cx="616.3" cy="234.6" r="1.95"/><circle cx="617.2" cy="236.1" r="1.95"/><circle cx="618.2" cy="236.0" r="1.95"/><circle cx="619.1" cy="236.4" r="1.95"/><circle cx="620.1" cy="236.8" r="1.95"/><circle cx="621.0" cy="236.6" r="1.95"/><circle cx="622.0" cy="237.5" r="1.95"/><circle cx="622.9" cy="237.4" r="1.95"/><circle cx="623.9" cy="237.5" r="1.95"/><circle cx="624.8" cy="238.7" r="1.95"/><circle cx="625.8" cy="238.2" r="1.95"/><circle cx="626.7" cy="238.8" r="1.95"/><circle cx="627.7" cy="239.2" r="1.95"/><circle cx="628.6" cy="239.1" r="1.95"/><circle cx="629.6" cy="238.9" r="1.95"/><circle cx="630.5" cy="239.3" r="1.95"/><circle cx="631.5" cy="239.5" r="1.95"/><circle cx="632.4" cy="240.0" r="1.95"/><circle cx="633.4" cy="239.5" r="1.95"/><circle cx="634.3" cy="240.3" r="1.95"/><circle cx="635.3" cy="240.2" r="1.95"/><circle cx="636.2" cy="240.2" r="1.95"/><circle cx="637.2" cy="240.5" r="1.95"/><circle cx="638.1" cy="239.9" r="1.95"/><circle cx="639.1" cy="239.7" r="1.95"/><circle cx="640.0" cy="239.7" r="1.95"/><circle cx="641.0" cy="240.0" r="1.95"/><circle cx="641.9" cy="239.9" r="1.95"/><circle cx="642.9" cy="240.4" r="1.95"/><circle cx="643.8" cy="240.7" r="1.95"/><circle cx="644.8" cy="241.1" r="1.95"/><circle cx="645.7" cy="242.3" r="1.95"/><circle cx="646.7" cy="243.3" r="1.95"/><circle cx="647.6" cy="244.6" r="1.95"/><circle cx="648.6" cy="245.7" r="1.95"/><circle cx="649.5" cy="246.7" r="1.95"/><circle cx="650.5" cy="246.8" r="1.95"/><circle cx="651.4" cy="247.3" r="1.95"/><circle cx="652.4" cy="247.8" r="1.95"/><circle cx="653.3" cy="247.3" r="1.95"/><circle cx="654.3" cy="247.9" r="1.95"/><circle cx="655.2" cy="248.5" r="1.95"/><circle cx="656.2" cy="248.6" r="1.95"/><circle cx="657.1" cy="247.9" r="1.95"/><circle cx="658.1" cy="248.0" r="1.95"/><circle cx="659.0" cy="248.2" r="1.95"/><circle cx="660.0" cy="247.6" r="1.95"/><circle cx="660.9" cy="247.7" r="1.95"/><circle cx="661.9" cy="247.3" r="1.95"/><circle cx="662.8" cy="247.9" r="1.95"/><circle cx="663.8" cy="247.8" r="1.95"/><circle cx="664.7" cy="247.4" r="1.95"/><circle cx="665.7" cy="246.1" r="1.95"/><circle cx="666.6" cy="246.3" r="1.95"/><circle cx="667.6" cy="245.4" r="1.95"/><circle cx="668.5" cy="243.6" r="1.95"/><circle cx="669.5" cy="243.3" r="1.95"/><circle cx="670.4" cy="242.2" r="1.95"/><circle cx="671.4" cy="240.4" r="1.95"/><circle cx="672.3" cy="240.5" r="1.95"/><circle cx="673.3" cy="239.2" r="1.95"/><circle cx="674.2" cy="238.6" r="1.95"/><circle cx="675.2" cy="238.8" r="1.95"/><circle cx="676.1" cy="238.3" r="1.95"/><circle cx="677.1" cy="237.3" r="1.95"/><circle cx="678.0" cy="237.4" r="1.95"/></g>
<text x="672.60" y="189.50" text-anchor="end" font-size="10.4" font-family="Liberation Sans, sans-serif" fill="#222">-50 kV/cm</text>
<text x="674.20" y="201.50" text-anchor="end" font-size="10.4" font-family="Liberation Sans, sans-serif" fill="#222">Fe K<tspan font-family="Liberation Serif, serif" font-size="11">α</tspan></text>
<text x="587.00" y="281.90" font-size="10.5" textLength="16.4" lengthAdjust="spacingAndGlyphs" font-family="Liberation Serif, serif" fill="#222">110</text>
<path d="M587.00,273.30 h4.60" stroke="#555" stroke-width="0.7"/>
<path d="M592.60,273.30 h4.40" stroke="#555" stroke-width="0.7"/>
<rect x="529.6" y="335.5" width="148.39999999999998" height="105.80" fill="none" stroke="#333" stroke-width="1"/>
<path d="M529.60,441.30 v-2.2 M529.60,335.5 v2.2" stroke="#333" stroke-width="0.8"/>
<path d="M554.32,441.30 v-2.2 M554.32,335.5 v2.2" stroke="#333" stroke-width="0.8"/>
<path d="M579.04,441.30 v-2.2 M579.04,335.5 v2.2" stroke="#333" stroke-width="0.8"/>
<path d="M603.76,441.30 v-2.2 M603.76,335.5 v2.2" stroke="#333" stroke-width="0.8"/>
<path d="M628.48,441.30 v-2.2 M628.48,335.5 v2.2" stroke="#333" stroke-width="0.8"/>
<path d="M653.20,441.30 v-2.2 M653.20,335.5 v2.2" stroke="#333" stroke-width="0.8"/>
<path d="M677.92,441.30 v-2.2 M677.92,335.5 v2.2" stroke="#333" stroke-width="0.8"/>
<path d="M529.6,335.50 h2.2 M678.0,335.50 h-2.2" stroke="#333" stroke-width="0.8"/>
<path d="M529.6,346.08 h1.2 M678.0,346.08 h-1.2" stroke="#333" stroke-width="0.8"/>
<path d="M529.6,356.66 h2.2 M678.0,356.66 h-2.2" stroke="#333" stroke-width="0.8"/>
<path d="M529.6,367.24 h1.2 M678.0,367.24 h-1.2" stroke="#333" stroke-width="0.8"/>
<path d="M529.6,377.82 h2.2 M678.0,377.82 h-2.2" stroke="#333" stroke-width="0.8"/>
<path d="M529.6,388.40 h1.2 M678.0,388.40 h-1.2" stroke="#333" stroke-width="0.8"/>
<path d="M529.6,398.98 h2.2 M678.0,398.98 h-2.2" stroke="#333" stroke-width="0.8"/>
<path d="M529.6,409.56 h1.2 M678.0,409.56 h-1.2" stroke="#333" stroke-width="0.8"/>
<path d="M529.6,420.14 h2.2 M678.0,420.14 h-2.2" stroke="#333" stroke-width="0.8"/>
<path d="M529.6,430.72 h1.2 M678.0,430.72 h-1.2" stroke="#333" stroke-width="0.8"/>
<path d="M529.6,441.30 h2.2 M678.0,441.30 h-2.2" stroke="#333" stroke-width="0.8"/>
<text x="529.60" y="452.80" text-anchor="middle" font-size="11.2" font-family="Liberation Sans, sans-serif" fill="#222">16</text>
<text x="579.04" y="452.80" text-anchor="middle" font-size="11.2" font-family="Liberation Sans, sans-serif" fill="#222">18</text>
<text x="628.48" y="452.80" text-anchor="middle" font-size="11.2" font-family="Liberation Sans, sans-serif" fill="#222">20</text>
<text x="677.92" y="452.80" text-anchor="middle" font-size="11.2" font-family="Liberation Sans, sans-serif" fill="#222">22</text>
<text x="527.60" y="339.50" text-anchor="end" font-size="11" font-family="Liberation Sans, sans-serif" fill="#222">1.5</text>
<text x="527.60" y="360.66" text-anchor="end" font-size="11" font-family="Liberation Sans, sans-serif" fill="#222">1</text>
<text x="527.60" y="381.82" text-anchor="end" font-size="11" font-family="Liberation Sans, sans-serif" fill="#222">0.5</text>
<text x="527.60" y="402.98" text-anchor="end" font-size="11" font-family="Liberation Sans, sans-serif" fill="#222">0</text>
<text x="527.60" y="424.14" text-anchor="end" font-size="11" font-family="Liberation Sans, sans-serif" fill="#222">−0.5</text>
<text x="527.60" y="445.30" text-anchor="end" font-size="11" font-family="Liberation Sans, sans-serif" fill="#222">−1</text>
<text transform="translate(504.30,385.75) rotate(-90)" text-anchor="middle" font-size="11.2" font-family="Liberation Sans, sans-serif" fill="#222">Intensyty (%)</text>
<text x="596.2" y="465.30" text-anchor="middle" font-size="10.8" font-family="Liberation Sans, sans-serif" fill="#222">θ (deg)</text>
<path d="M591.89,337.80 V413.00" stroke="#2a86d0" stroke-width="1.6" stroke-dasharray="5.8 3.9"/>
<path d="M602.28,337.80 V416.00" stroke="#2a86d0" stroke-width="1.6" stroke-dasharray="5.8 3.9"/>
<path d="M618.59,355.90 V441.30" stroke="#fb9a3c" stroke-width="1.6" stroke-dasharray="5.8 3.9"/>
<path d="M639.36,353.10 V441.30" stroke="#fb9a3c" stroke-width="1.6" stroke-dasharray="5.8 3.9"/>
<g fill="#ff00ff"><circle cx="529.8" cy="393.5" r="2.4"/><circle cx="530.8" cy="393.8" r="2.4"/><circle cx="531.7" cy="394.2" r="2.4"/><circle cx="532.7" cy="394.8" r="2.4"/><circle cx="533.6" cy="395.5" r="2.4"/><circle cx="534.6" cy="394.8" r="2.4"/><circle cx="535.5" cy="395.6" r="2.4"/><circle cx="536.5" cy="395.4" r="2.4"/><circle cx="537.4" cy="394.6" r="2.4"/><circle cx="538.4" cy="394.6" r="2.4"/><circle cx="539.3" cy="394.6" r="2.4"/><circle cx="540.3" cy="394.1" r="2.4"/><circle cx="541.2" cy="393.2" r="2.4"/><circle cx="542.2" cy="393.9" r="2.4"/><circle cx="543.1" cy="393.3" r="2.4"/><circle cx="544.1" cy="393.0" r="2.4"/><circle cx="545.0" cy="391.2" r="2.4"/><circle cx="546.0" cy="391.7" r="2.4"/><circle cx="546.9" cy="392.2" r="2.4"/><circle cx="547.9" cy="393.8" r="2.4"/><circle cx="548.8" cy="393.9" r="2.4"/><circle cx="549.8" cy="394.4" r="2.4"/><circle cx="550.7" cy="394.4" r="2.4"/><circle cx="551.7" cy="394.4" r="2.4"/><circle cx="552.6" cy="393.8" r="2.4"/><circle cx="553.6" cy="392.5" r="2.4"/><circle cx="554.5" cy="392.4" r="2.4"/><circle cx="555.5" cy="394.6" r="2.4"/><circle cx="556.4" cy="395.4" r="2.4"/><circle cx="557.4" cy="396.8" r="2.4"/><circle cx="558.3" cy="397.5" r="2.4"/><circle cx="559.3" cy="398.9" r="2.4"/><circle cx="560.2" cy="401.1" r="2.4"/><circle cx="561.2" cy="402.1" r="2.4"/><circle cx="562.1" cy="402.2" r="2.4"/><circle cx="563.1" cy="403.8" r="2.4"/><circle cx="564.0" cy="404.0" r="2.4"/><circle cx="565.0" cy="404.7" r="2.4"/><circle cx="565.9" cy="404.2" r="2.4"/><circle cx="566.9" cy="405.4" r="2.4"/><circle cx="567.8" cy="404.8" r="2.4"/><circle cx="568.8" cy="406.1" r="2.4"/><circle cx="569.7" cy="405.9" r="2.4"/><circle cx="570.7" cy="406.0" r="2.4"/><circle cx="571.6" cy="406.5" r="2.4"/><circle cx="572.6" cy="407.3" r="2.4"/><circle cx="573.5" cy="406.8" r="2.4"/><circle cx="574.5" cy="406.6" r="2.4"/><circle cx="575.4" cy="406.8" r="2.4"/><circle cx="576.4" cy="406.2" r="2.4"/><circle cx="577.3" cy="405.8" r="2.4"/><circle cx="578.3" cy="405.4" r="2.4"/><circle cx="579.2" cy="404.8" r="2.4"/><circle cx="580.2" cy="404.6" r="2.4"/><circle cx="581.1" cy="404.8" r="2.4"/><circle cx="582.1" cy="405.0" r="2.4"/><circle cx="583.0" cy="405.8" r="2.4"/><circle cx="584.0" cy="405.5" r="2.4"/><circle cx="584.9" cy="406.0" r="2.4"/><circle cx="585.9" cy="405.9" r="2.4"/><circle cx="586.8" cy="406.4" r="2.4"/><circle cx="587.8" cy="406.3" r="2.4"/><circle cx="588.7" cy="406.9" r="2.4"/><circle cx="589.7" cy="407.4" r="2.4"/><circle cx="590.6" cy="409.0" r="2.4"/><circle cx="591.6" cy="409.6" r="2.4"/><circle cx="592.5" cy="408.4" r="2.4"/><circle cx="593.5" cy="407.2" r="2.4"/><circle cx="594.4" cy="406.1" r="2.4"/><circle cx="595.4" cy="403.5" r="2.4"/><circle cx="596.3" cy="402.7" r="2.4"/><circle cx="597.3" cy="400.5" r="2.4"/><circle cx="598.2" cy="399.0" r="2.4"/><circle cx="599.2" cy="398.3" r="2.4"/><circle cx="600.1" cy="396.5" r="2.4"/><circle cx="601.1" cy="395.5" r="2.4"/><circle cx="602.0" cy="394.5" r="2.4"/><circle cx="603.0" cy="394.6" r="2.4"/><circle cx="603.9" cy="394.1" r="2.4"/><circle cx="604.9" cy="395.0" r="2.4"/><circle cx="605.8" cy="395.2" r="2.4"/><circle cx="606.8" cy="395.4" r="2.4"/><circle cx="607.7" cy="395.4" r="2.4"/><circle cx="608.7" cy="395.6" r="2.4"/><circle cx="609.6" cy="395.6" r="2.4"/><circle cx="610.6" cy="396.0" r="2.4"/><circle cx="611.5" cy="396.3" r="2.4"/><circle cx="612.5" cy="397.4" r="2.4"/><circle cx="613.4" cy="397.2" r="2.4"/><circle cx="614.4" cy="398.5" r="2.4"/><circle cx="615.3" cy="400.0" r="2.4"/><circle cx="616.3" cy="402.4" r="2.4"/><circle cx="617.2" cy="404.0" r="2.4"/><circle cx="618.2" cy="405.4" r="2.4"/><circle cx="619.1" cy="405.6" r="2.4"/><circle cx="620.1" cy="404.8" r="2.4"/><circle cx="621.0" cy="404.2" r="2.4"/><circle cx="622.0" cy="403.8" r="2.4"/><circle cx="622.9" cy="402.8" r="2.4"/><circle cx="623.9" cy="402.6" r="2.4"/><circle cx="624.8" cy="401.8" r="2.4"/><circle cx="625.8" cy="401.9" r="2.4"/><circle cx="626.7" cy="400.6" r="2.4"/><circle cx="627.7" cy="398.7" r="2.4"/><circle cx="628.6" cy="397.0" r="2.4"/><circle cx="629.6" cy="396.5" r="2.4"/><circle cx="630.5" cy="394.3" r="2.4"/><circle cx="631.5" cy="393.0" r="2.4"/><circle cx="632.4" cy="391.1" r="2.4"/><circle cx="633.4" cy="390.5" r="2.4"/><circle cx="634.3" cy="389.9" r="2.4"/><circle cx="635.3" cy="389.2" r="2.4"/><circle cx="636.2" cy="388.1" r="2.4"/><circle cx="637.2" cy="388.0" r="2.4"/><circle cx="638.1" cy="387.1" r="2.4"/><circle cx="639.1" cy="387.1" r="2.4"/><circle cx="640.0" cy="387.2" r="2.4"/><circle cx="641.0" cy="388.1" r="2.4"/><circle cx="641.9" cy="388.3" r="2.4"/><circle cx="642.9" cy="388.8" r="2.4"/><circle cx="643.8" cy="390.0" r="2.4"/><circle cx="644.8" cy="390.7" r="2.4"/><circle cx="645.7" cy="392.0" r="2.4"/><circle cx="646.7" cy="392.8" r="2.4"/><circle cx="647.6" cy="393.6" r="2.4"/><circle cx="648.6" cy="394.1" r="2.4"/><circle cx="649.5" cy="394.7" r="2.4"/><circle cx="650.5" cy="395.5" r="2.4"/><circle cx="651.4" cy="395.5" r="2.4"/><circle cx="652.4" cy="395.7" r="2.4"/><circle cx="653.3" cy="396.8" r="2.4"/><circle cx="654.3" cy="396.1" r="2.4"/><circle cx="655.2" cy="397.1" r="2.4"/><circle cx="656.2" cy="397.3" r="2.4"/><circle cx="657.1" cy="396.7" r="2.4"/><circle cx="658.1" cy="397.7" r="2.4"/><circle cx="659.0" cy="397.8" r="2.4"/><circle cx="660.0" cy="397.6" r="2.4"/><circle cx="660.9" cy="397.8" r="2.4"/><circle cx="661.9" cy="398.0" r="2.4"/><circle cx="662.8" cy="397.1" r="2.4"/><circle cx="663.8" cy="397.6" r="2.4"/><circle cx="664.7" cy="397.5" r="2.4"/><circle cx="665.7" cy="397.9" r="2.4"/><circle cx="666.6" cy="397.9" r="2.4"/><circle cx="667.6" cy="397.8" r="2.4"/><circle cx="668.5" cy="397.2" r="2.4"/><circle cx="669.5" cy="397.3" r="2.4"/><circle cx="670.4" cy="396.8" r="2.4"/><circle cx="671.4" cy="396.5" r="2.4"/><circle cx="672.3" cy="395.7" r="2.4"/><circle cx="673.3" cy="395.1" r="2.4"/><circle cx="674.2" cy="394.9" r="2.4"/><circle cx="675.2" cy="394.9" r="2.4"/><circle cx="676.1" cy="394.7" r="2.4"/><circle cx="677.1" cy="395.8" r="2.4"/><circle cx="678.0" cy="395.7" r="2.4"/></g>
<text x="674.00" y="345.40" text-anchor="end" font-size="10.4" font-family="Liberation Sans, sans-serif" fill="#222">-100 kV/cm</text>
<text x="674.20" y="359.10" text-anchor="end" font-size="10.4" font-family="Liberation Sans, sans-serif" fill="#222">Fe K<tspan font-family="Liberation Serif, serif" font-size="11">α</tspan></text>
<text x="587.20" y="433.00" font-size="10.5" textLength="16.4" lengthAdjust="spacingAndGlyphs" font-family="Liberation Serif, serif" fill="#222">110</text>
<path d="M587.20,424.40 h4.60" stroke="#555" stroke-width="0.7"/>
<path d="M592.80,424.40 h4.40" stroke="#555" stroke-width="0.7"/>
<text x="620.50" y="360.00" font-size="10.5" textLength="16.4" lengthAdjust="spacingAndGlyphs" font-family="Liberation Serif, serif" fill="#222">110</text>
<rect x="529.6" y="497.6" width="148.39999999999998" height="105.80" fill="none" stroke="#333" stroke-width="1"/>
<path d="M529.60,603.40 v-2.2 M529.60,497.6 v2.2" stroke="#333" stroke-width="0.8"/>
<path d="M554.32,603.40 v-2.2 M554.32,497.6 v2.2" stroke="#333" stroke-width="0.8"/>
<path d="M579.04,603.40 v-2.2 M579.04,497.6 v2.2" stroke="#333" stroke-width="0.8"/>
<path d="M603.76,603.40 v-2.2 M603.76,497.6 v2.2" stroke="#333" stroke-width="0.8"/>
<path d="M628.48,603.40 v-2.2 M628.48,497.6 v2.2" stroke="#333" stroke-width="0.8"/>
<path d="M653.20,603.40 v-2.2 M653.20,497.6 v2.2" stroke="#333" stroke-width="0.8"/>
<path d="M677.92,603.40 v-2.2 M677.92,497.6 v2.2" stroke="#333" stroke-width="0.8"/>
<path d="M529.6,497.60 h2.2 M678.0,497.60 h-2.2" stroke="#333" stroke-width="0.8"/>
<path d="M529.6,508.18 h1.2 M678.0,508.18 h-1.2" stroke="#333" stroke-width="0.8"/>
<path d="M529.6,518.76 h2.2 M678.0,518.76 h-2.2" stroke="#333" stroke-width="0.8"/>
<path d="M529.6,529.34 h1.2 M678.0,529.34 h-1.2" stroke="#333" stroke-width="0.8"/>
<path d="M529.6,539.92 h2.2 M678.0,539.92 h-2.2" stroke="#333" stroke-width="0.8"/>
<path d="M529.6,550.50 h1.2 M678.0,550.50 h-1.2" stroke="#333" stroke-width="0.8"/>
<path d="M529.6,561.08 h2.2 M678.0,561.08 h-2.2" stroke="#333" stroke-width="0.8"/>
<path d="M529.6,571.66 h1.2 M678.0,571.66 h-1.2" stroke="#333" stroke-width="0.8"/>
<path d="M529.6,582.24 h2.2 M678.0,582.24 h-2.2" stroke="#333" stroke-width="0.8"/>
<path d="M529.6,592.82 h1.2 M678.0,592.82 h-1.2" stroke="#333" stroke-width="0.8"/>
<path d="M529.6,603.40 h2.2 M678.0,603.40 h-2.2" stroke="#333" stroke-width="0.8"/>
<text x="529.60" y="614.90" text-anchor="middle" font-size="11.2" font-family="Liberation Sans, sans-serif" fill="#222">16</text>
<text x="579.04" y="614.90" text-anchor="middle" font-size="11.2" font-family="Liberation Sans, sans-serif" fill="#222">18</text>
<text x="628.48" y="614.90" text-anchor="middle" font-size="11.2" font-family="Liberation Sans, sans-serif" fill="#222">20</text>
<text x="677.92" y="614.90" text-anchor="middle" font-size="11.2" font-family="Liberation Sans, sans-serif" fill="#222">22</text>
<text x="527.60" y="501.60" text-anchor="end" font-size="11" font-family="Liberation Sans, sans-serif" fill="#222">1.5</text>
<text x="527.60" y="522.76" text-anchor="end" font-size="11" font-family="Liberation Sans, sans-serif" fill="#222">1</text>
<text x="527.60" y="543.92" text-anchor="end" font-size="11" font-family="Liberation Sans, sans-serif" fill="#222">0.5</text>
<text x="527.60" y="565.08" text-anchor="end" font-size="11" font-family="Liberation Sans, sans-serif" fill="#222">0</text>
<text x="527.60" y="586.24" text-anchor="end" font-size="11" font-family="Liberation Sans, sans-serif" fill="#222">−0.5</text>
<text x="527.60" y="607.40" text-anchor="end" font-size="11" font-family="Liberation Sans, sans-serif" fill="#222">−1</text>
<text transform="translate(504.30,547.85) rotate(-90)" text-anchor="middle" font-size="11.2" font-family="Liberation Sans, sans-serif" fill="#222">Intensyty (%)</text>
<text x="596.2" y="627.40" text-anchor="middle" font-size="10.8" font-family="Liberation Sans, sans-serif" fill="#222">θ (deg)</text>
<path d="M589.30,516.80 V603.40" stroke="#fb9a3c" stroke-width="1.6" stroke-dasharray="5.8 3.9"/>
<path d="M605.09,516.80 V603.40" stroke="#fb9a3c" stroke-width="1.6" stroke-dasharray="5.8 3.9"/>
<g fill="#ff8c1a"><circle cx="529.8" cy="555.8" r="2.4"/><circle cx="530.8" cy="555.5" r="2.4"/><circle cx="531.7" cy="555.2" r="2.4"/><circle cx="532.7" cy="554.6" r="2.4"/><circle cx="533.6" cy="553.5" r="2.4"/><circle cx="534.6" cy="554.0" r="2.4"/><circle cx="535.5" cy="553.4" r="2.4"/><circle cx="536.5" cy="552.8" r="2.4"/><circle cx="537.4" cy="552.7" r="2.4"/><circle cx="538.4" cy="552.7" r="2.4"/><circle cx="539.3" cy="552.1" r="2.4"/><circle cx="540.3" cy="553.5" r="2.4"/><circle cx="541.2" cy="553.5" r="2.4"/><circle cx="542.2" cy="553.9" r="2.4"/><circle cx="543.1" cy="554.3" r="2.4"/><circle cx="544.1" cy="554.6" r="2.4"/><circle cx="545.0" cy="553.7" r="2.4"/><circle cx="546.0" cy="554.1" r="2.4"/><circle cx="546.9" cy="554.5" r="2.4"/><circle cx="547.9" cy="554.1" r="2.4"/><circle cx="548.8" cy="554.3" r="2.4"/><circle cx="549.8" cy="554.6" r="2.4"/><circle cx="550.7" cy="553.8" r="2.4"/><circle cx="551.7" cy="552.6" r="2.4"/><circle cx="552.6" cy="551.0" r="2.4"/><circle cx="553.6" cy="549.7" r="2.4"/><circle cx="554.5" cy="550.1" r="2.4"/><circle cx="555.5" cy="551.3" r="2.4"/><circle cx="556.4" cy="552.5" r="2.4"/><circle cx="557.4" cy="554.5" r="2.4"/><circle cx="558.3" cy="555.4" r="2.4"/><circle cx="559.3" cy="557.2" r="2.4"/><circle cx="560.2" cy="557.9" r="2.4"/><circle cx="561.2" cy="559.2" r="2.4"/><circle cx="562.1" cy="560.6" r="2.4"/><circle cx="563.1" cy="562.3" r="2.4"/><circle cx="564.0" cy="563.4" r="2.4"/><circle cx="565.0" cy="564.3" r="2.4"/><circle cx="565.9" cy="564.7" r="2.4"/><circle cx="566.9" cy="565.8" r="2.4"/><circle cx="567.8" cy="566.6" r="2.4"/><circle cx="568.8" cy="567.1" r="2.4"/><circle cx="569.7" cy="566.6" r="2.4"/><circle cx="570.7" cy="567.4" r="2.4"/><circle cx="571.6" cy="566.5" r="2.4"/><circle cx="572.6" cy="567.3" r="2.4"/><circle cx="573.5" cy="567.6" r="2.4"/><circle cx="574.5" cy="567.2" r="2.4"/><circle cx="575.4" cy="568.4" r="2.4"/><circle cx="576.4" cy="569.5" r="2.4"/><circle cx="577.3" cy="570.6" r="2.4"/><circle cx="578.3" cy="570.9" r="2.4"/><circle cx="579.2" cy="571.6" r="2.4"/><circle cx="580.2" cy="572.5" r="2.4"/><circle cx="581.1" cy="574.2" r="2.4"/><circle cx="582.1" cy="574.0" r="2.4"/><circle cx="583.0" cy="575.2" r="2.4"/><circle cx="584.0" cy="575.4" r="2.4"/><circle cx="584.9" cy="577.9" r="2.4"/><circle cx="585.9" cy="580.7" r="2.4"/><circle cx="586.8" cy="582.9" r="2.4"/><circle cx="587.8" cy="587.2" r="2.4"/><circle cx="588.7" cy="588.1" r="2.4"/><circle cx="589.7" cy="589.8" r="2.4"/><circle cx="590.6" cy="588.3" r="2.4"/><circle cx="591.6" cy="586.3" r="2.4"/><circle cx="592.5" cy="584.3" r="2.4"/><circle cx="593.5" cy="580.1" r="2.4"/><circle cx="594.4" cy="575.8" r="2.4"/><circle cx="595.4" cy="571.4" r="2.4"/><circle cx="596.3" cy="567.6" r="2.4"/><circle cx="597.3" cy="563.4" r="2.4"/><circle cx="598.2" cy="560.3" r="2.4"/><circle cx="599.2" cy="557.2" r="2.4"/><circle cx="600.1" cy="554.9" r="2.4"/><circle cx="601.1" cy="553.1" r="2.4"/><circle cx="602.0" cy="552.8" r="2.4"/><circle cx="603.0" cy="551.5" r="2.4"/><circle cx="603.9" cy="552.1" r="2.4"/><circle cx="604.9" cy="551.9" r="2.4"/><circle cx="605.8" cy="551.2" r="2.4"/><circle cx="606.8" cy="552.5" r="2.4"/><circle cx="607.7" cy="552.6" r="2.4"/><circle cx="608.7" cy="553.2" r="2.4"/><circle cx="609.6" cy="552.9" r="2.4"/><circle cx="610.6" cy="553.5" r="2.4"/><circle cx="611.5" cy="554.0" r="2.4"/><circle cx="612.5" cy="555.2" r="2.4"/><circle cx="613.4" cy="555.2" r="2.4"/><circle cx="614.4" cy="554.2" r="2.4"/><circle cx="615.3" cy="553.5" r="2.4"/><circle cx="616.3" cy="552.6" r="2.4"/><circle cx="617.2" cy="552.3" r="2.4"/><circle cx="618.2" cy="552.3" r="2.4"/><circle cx="619.1" cy="553.2" r="2.4"/><circle cx="620.1" cy="552.6" r="2.4"/><circle cx="621.0" cy="553.7" r="2.4"/><circle cx="622.0" cy="553.3" r="2.4"/><circle cx="622.9" cy="553.7" r="2.4"/><circle cx="623.9" cy="554.4" r="2.4"/><circle cx="624.8" cy="554.5" r="2.4"/><circle cx="625.8" cy="555.8" r="2.4"/><circle cx="626.7" cy="557.5" r="2.4"/><circle cx="627.7" cy="558.5" r="2.4"/><circle cx="628.6" cy="558.9" r="2.4"/><circle cx="629.6" cy="558.3" r="2.4"/><circle cx="630.5" cy="558.2" r="2.4"/><circle cx="631.5" cy="557.6" r="2.4"/><circle cx="632.4" cy="556.2" r="2.4"/><circle cx="633.4" cy="555.4" r="2.4"/><circle cx="634.3" cy="554.0" r="2.4"/><circle cx="635.3" cy="554.4" r="2.4"/><circle cx="636.2" cy="553.7" r="2.4"/><circle cx="637.2" cy="553.6" r="2.4"/><circle cx="638.1" cy="553.5" r="2.4"/><circle cx="639.1" cy="553.3" r="2.4"/><circle cx="640.0" cy="553.3" r="2.4"/><circle cx="641.0" cy="554.5" r="2.4"/><circle cx="641.9" cy="553.8" r="2.4"/><circle cx="642.9" cy="554.5" r="2.4"/><circle cx="643.8" cy="554.7" r="2.4"/><circle cx="644.8" cy="555.0" r="2.4"/><circle cx="645.7" cy="555.9" r="2.4"/><circle cx="646.7" cy="556.6" r="2.4"/><circle cx="647.6" cy="556.3" r="2.4"/><circle cx="648.6" cy="557.2" r="2.4"/><circle cx="649.5" cy="557.3" r="2.4"/><circle cx="650.5" cy="558.1" r="2.4"/><circle cx="651.4" cy="558.3" r="2.4"/><circle cx="652.4" cy="558.5" r="2.4"/><circle cx="653.3" cy="559.0" r="2.4"/><circle cx="654.3" cy="559.5" r="2.4"/><circle cx="655.2" cy="560.7" r="2.4"/><circle cx="656.2" cy="560.5" r="2.4"/><circle cx="657.1" cy="560.4" r="2.4"/><circle cx="658.1" cy="561.5" r="2.4"/><circle cx="659.0" cy="562.1" r="2.4"/><circle cx="660.0" cy="562.7" r="2.4"/><circle cx="660.9" cy="563.6" r="2.4"/><circle cx="661.9" cy="564.4" r="2.4"/><circle cx="662.8" cy="564.3" r="2.4"/><circle cx="663.8" cy="564.6" r="2.4"/><circle cx="664.7" cy="563.9" r="2.4"/><circle cx="665.7" cy="563.2" r="2.4"/><circle cx="666.6" cy="562.3" r="2.4"/><circle cx="667.6" cy="561.7" r="2.4"/><circle cx="668.5" cy="561.2" r="2.4"/><circle cx="669.5" cy="560.0" r="2.4"/><circle cx="670.4" cy="558.7" r="2.4"/><circle cx="671.4" cy="557.7" r="2.4"/><circle cx="672.3" cy="557.2" r="2.4"/><circle cx="673.3" cy="556.6" r="2.4"/><circle cx="674.2" cy="556.0" r="2.4"/><circle cx="675.2" cy="555.2" r="2.4"/><circle cx="676.1" cy="555.6" r="2.4"/><circle cx="677.1" cy="556.7" r="2.4"/><circle cx="678.0" cy="556.1" r="2.4"/></g>
<text x="671.90" y="510.70" text-anchor="end" font-size="10.4" font-family="Liberation Sans, sans-serif" fill="#222">-200 kV/cm</text>
<text x="674.00" y="524.30" text-anchor="end" font-size="10.4" font-family="Liberation Sans, sans-serif" fill="#222">Fe K<tspan font-family="Liberation Serif, serif" font-size="11">α</tspan></text>
<text x="588.70" y="514.50" font-size="10.5" textLength="16.4" lengthAdjust="spacingAndGlyphs" font-family="Liberation Serif, serif" fill="#222">110</text>
</svg>
</body></html>
